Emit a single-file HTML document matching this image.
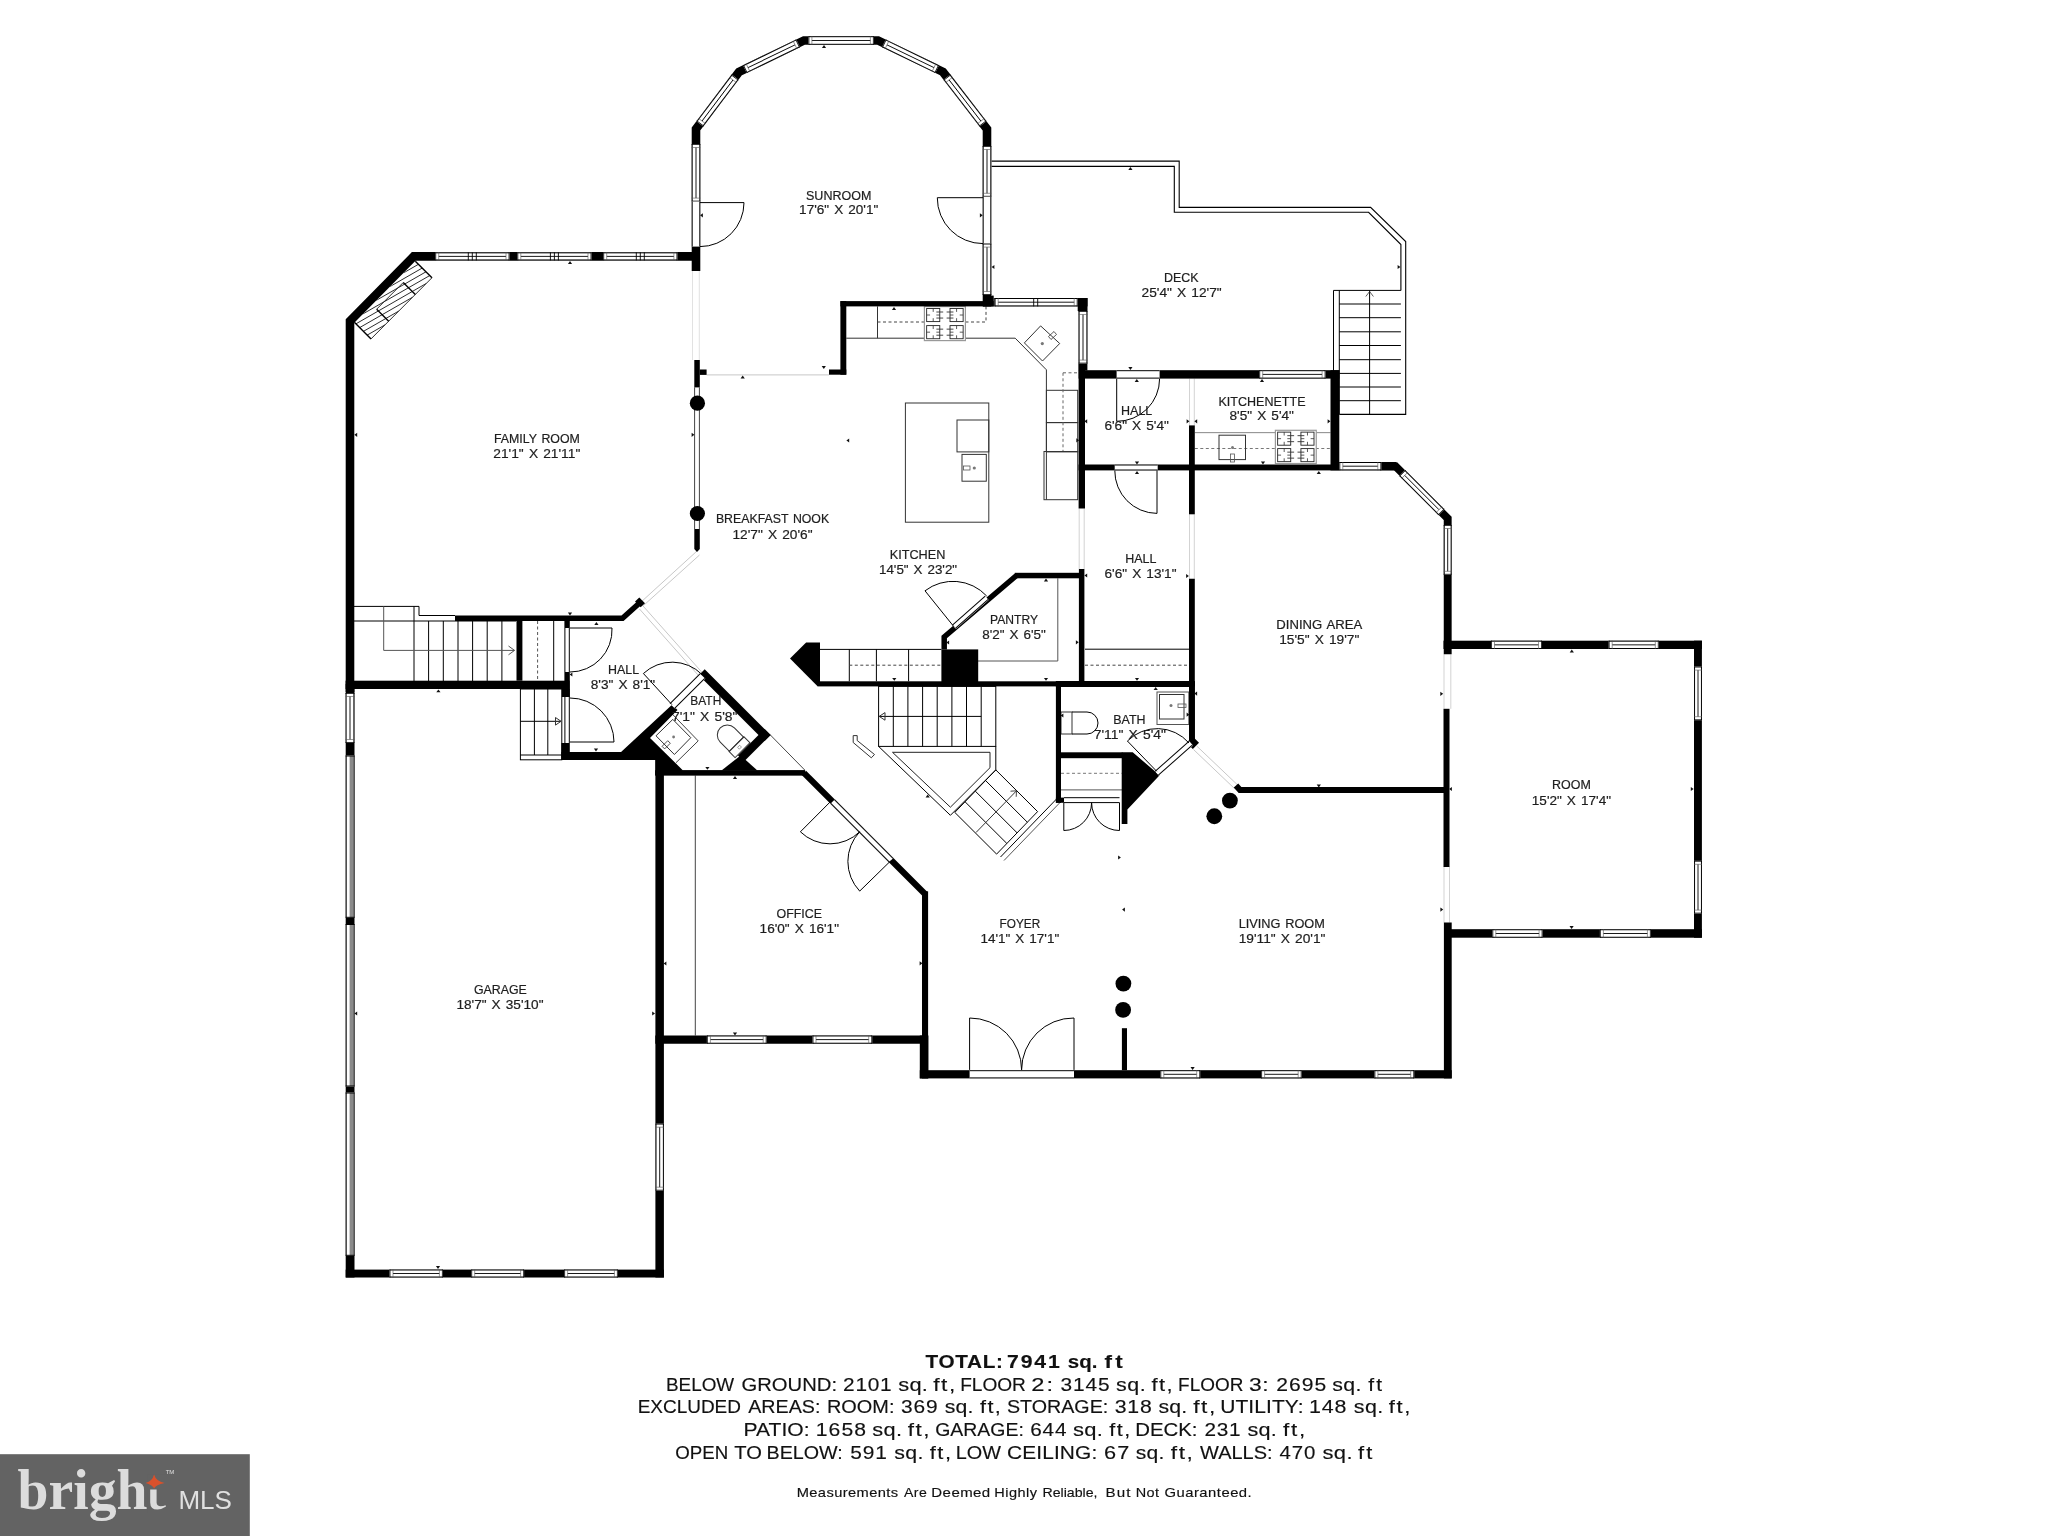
<!DOCTYPE html>
<html><head><meta charset="utf-8"><style>
html,body{margin:0;padding:0;background:#fff;width:2048px;height:1536px;overflow:hidden}
svg{display:block;will-change:transform}
</style></head><body>
<svg width="2048" height="1536" viewBox="0 0 2048 1536">
<rect width="2048" height="1536" fill="#fff"/>
<line x1="692.5" y1="271" x2="692.5" y2="360" stroke="#e2e2e2" stroke-width="1"/>
<line x1="699.3" y1="271" x2="699.3" y2="360" stroke="#e2e2e2" stroke-width="1"/>
<line x1="706.6" y1="374.9" x2="829" y2="374.9" stroke="#c8c8c8" stroke-width="1"/>
<line x1="697" y1="551" x2="640.5" y2="602.5" stroke="#c8c8c8" stroke-width="1"/>
<line x1="699.5" y1="555" x2="643.5" y2="605.5" stroke="#c8c8c8" stroke-width="1"/>
<line x1="642.9" y1="605.8" x2="702" y2="672.4" stroke="#c8c8c8" stroke-width="1"/>
<line x1="639.5" y1="609" x2="698.5" y2="675.5" stroke="#c8c8c8" stroke-width="1"/>
<line x1="1079.2" y1="508.5" x2="1079.2" y2="569" stroke="#c8c8c8" stroke-width="0.8"/>
<line x1="1084.2" y1="508.5" x2="1084.2" y2="569" stroke="#c8c8c8" stroke-width="0.8"/>
<line x1="1189.5" y1="378.6" x2="1189.5" y2="425.4" stroke="#c8c8c8" stroke-width="0.8"/>
<line x1="1194.3" y1="378.6" x2="1194.3" y2="425.4" stroke="#c8c8c8" stroke-width="0.8"/>
<line x1="1189.5" y1="514.3" x2="1189.5" y2="578.75" stroke="#c8c8c8" stroke-width="0.8"/>
<line x1="1194.3" y1="514.3" x2="1194.3" y2="578.75" stroke="#c8c8c8" stroke-width="0.8"/>
<line x1="1444" y1="654.3" x2="1444" y2="708.8" stroke="#c8c8c8" stroke-width="0.8"/>
<line x1="1450.8" y1="654.3" x2="1450.8" y2="708.8" stroke="#c8c8c8" stroke-width="0.8"/>
<line x1="1444" y1="866.5" x2="1444" y2="922.7" stroke="#c8c8c8" stroke-width="0.8"/>
<line x1="1449.5" y1="866.5" x2="1449.5" y2="922.7" stroke="#c8c8c8" stroke-width="0.8"/>
<line x1="1196.7" y1="746" x2="1238.7" y2="786" stroke="#c8c8c8" stroke-width="1"/>
<line x1="1193.5" y1="749.5" x2="1235.5" y2="789.5" stroke="#c8c8c8" stroke-width="1"/>
<line x1="694.6" y1="387.4" x2="694.6" y2="529" stroke="#444" stroke-width="1"/>
<line x1="699.4" y1="387.4" x2="699.4" y2="529" stroke="#444" stroke-width="1"/>
<line x1="769.9" y1="734.5" x2="805" y2="770.3" stroke="#333" stroke-width="0.9"/>
<polyline points="991.4,161.1 1179.2,161.1 1179.2,207.4 1370.6,207.4 1405.7,241.6 1405.7,414.4 1339.3,414.4" fill="none" stroke="#000" stroke-width="1.1" stroke-linejoin="miter" stroke-linecap="butt"/>
<polyline points="991.4,166.4 1174.3,166.4 1174.3,212.3 1368.6,212.3 1400.9,244.5 1400.9,290.4" fill="none" stroke="#000" stroke-width="1.1" stroke-linejoin="miter" stroke-linecap="butt"/>
<line x1="1333.5" y1="290.4" x2="1400.9" y2="290.4" stroke="#000" stroke-width="1"/>
<line x1="1333.5" y1="290.4" x2="1333.5" y2="371" stroke="#000" stroke-width="1"/>
<line x1="1339.3" y1="290.4" x2="1339.3" y2="414.4" stroke="#000" stroke-width="1"/>
<line x1="1339.3" y1="304" x2="1400.9" y2="304" stroke="#000" stroke-width="1"/>
<line x1="1339.3" y1="317.7" x2="1400.9" y2="317.7" stroke="#000" stroke-width="1"/>
<line x1="1339.3" y1="331.8" x2="1400.9" y2="331.8" stroke="#000" stroke-width="1"/>
<line x1="1339.3" y1="345.5" x2="1400.9" y2="345.5" stroke="#000" stroke-width="1"/>
<line x1="1339.3" y1="359.7" x2="1400.9" y2="359.7" stroke="#000" stroke-width="1"/>
<line x1="1339.3" y1="373.4" x2="1400.9" y2="373.4" stroke="#000" stroke-width="1"/>
<line x1="1339.3" y1="387" x2="1400.9" y2="387" stroke="#000" stroke-width="1"/>
<line x1="1339.3" y1="400.7" x2="1400.9" y2="400.7" stroke="#000" stroke-width="1"/>
<line x1="1369.6" y1="290.4" x2="1369.6" y2="414.4" stroke="#000" stroke-width="1"/>
<polyline points="1365.8,296.5 1369.6,291.5 1373.4,296.5" fill="none" stroke="#333" stroke-width="0.8" stroke-linejoin="miter" stroke-linecap="butt"/>
<polyline points="354,606.4 419,606.4 419,615.5 455,615.5" fill="none" stroke="#000" stroke-width="1" stroke-linejoin="miter" stroke-linecap="butt"/>
<line x1="414" y1="606.4" x2="414" y2="621" stroke="#000" stroke-width="1"/>
<line x1="354" y1="621" x2="516" y2="621" stroke="#000" stroke-width="1"/>
<line x1="414" y1="621" x2="414" y2="681" stroke="#000" stroke-width="1"/>
<line x1="428.6" y1="621" x2="428.6" y2="681" stroke="#000" stroke-width="1"/>
<line x1="443.3" y1="621" x2="443.3" y2="681" stroke="#000" stroke-width="1"/>
<line x1="458" y1="621" x2="458" y2="681" stroke="#000" stroke-width="1"/>
<line x1="472.6" y1="621" x2="472.6" y2="681" stroke="#000" stroke-width="1"/>
<line x1="487.2" y1="621" x2="487.2" y2="681" stroke="#000" stroke-width="1"/>
<line x1="501.9" y1="621" x2="501.9" y2="681" stroke="#000" stroke-width="1"/>
<polyline points="383.7,606.4 383.7,650.4 514.5,650.4" fill="none" stroke="#555" stroke-width="1" stroke-linejoin="miter" stroke-linecap="butt"/>
<polyline points="508.5,646 514.5,650.4 508.5,654.8" fill="none" stroke="#555" stroke-width="1" stroke-linejoin="miter" stroke-linecap="butt"/>
<line x1="537.6" y1="621" x2="537.6" y2="681" stroke="#555" stroke-width="1" stroke-dasharray="3,2.5"/>
<line x1="553.7" y1="621" x2="553.7" y2="681" stroke="#000" stroke-width="1"/>
<rect x="520.4" y="689" width="41.4" height="70.8" fill="none" stroke="#000" stroke-width="1"/>
<line x1="534.4" y1="689" x2="534.4" y2="755" stroke="#000" stroke-width="1"/>
<line x1="547.8" y1="689" x2="547.8" y2="755" stroke="#000" stroke-width="1"/>
<line x1="520.4" y1="755" x2="561.8" y2="755" stroke="#000" stroke-width="1"/>
<line x1="520.4" y1="721.3" x2="561" y2="721.3" stroke="#000" stroke-width="1"/>
<polyline points="555.5,717.5 561,721.3 555.5,725.1" fill="none" stroke="#333" stroke-width="1" stroke-linejoin="miter" stroke-linecap="butt"/>
<line x1="555.5" y1="717.5" x2="555.5" y2="725.1" stroke="#333" stroke-width="1"/>
<line x1="820" y1="649.4" x2="941.4" y2="649.4" stroke="#000" stroke-width="1"/>
<line x1="849.3" y1="649.4" x2="849.3" y2="681.3" stroke="#000" stroke-width="1"/>
<line x1="876.4" y1="649.4" x2="876.4" y2="681.3" stroke="#000" stroke-width="1"/>
<line x1="908.6" y1="649.4" x2="908.6" y2="681.3" stroke="#000" stroke-width="1"/>
<line x1="849.3" y1="665.2" x2="941.4" y2="665.2" stroke="#444" stroke-width="1" stroke-dasharray="3,2.5"/>
<line x1="1085" y1="649.2" x2="1189" y2="649.2" stroke="#000" stroke-width="1"/>
<line x1="1085" y1="665.2" x2="1189" y2="665.2" stroke="#444" stroke-width="1" stroke-dasharray="3,2.5"/>
<polyline points="978,661 1057.8,661 1057.8,578.3" fill="none" stroke="#555" stroke-width="1" stroke-linejoin="miter" stroke-linecap="butt"/>
<rect x="878.6" y="686.4" width="117.2" height="60" fill="none" stroke="#000" stroke-width="1"/>
<line x1="893.3" y1="686.4" x2="893.3" y2="746.4" stroke="#000" stroke-width="1"/>
<line x1="907.9" y1="686.4" x2="907.9" y2="746.4" stroke="#000" stroke-width="1"/>
<line x1="922.6" y1="686.4" x2="922.6" y2="746.4" stroke="#000" stroke-width="1"/>
<line x1="937.2" y1="686.4" x2="937.2" y2="746.4" stroke="#000" stroke-width="1"/>
<line x1="951.9" y1="686.4" x2="951.9" y2="746.4" stroke="#000" stroke-width="1"/>
<line x1="966.5" y1="686.4" x2="966.5" y2="746.4" stroke="#000" stroke-width="1"/>
<line x1="981.2" y1="686.4" x2="981.2" y2="746.4" stroke="#000" stroke-width="1"/>
<line x1="879" y1="716.4" x2="981.2" y2="716.4" stroke="#000" stroke-width="1"/>
<polyline points="885,712.6 879.2,716.4 885,720.2 885,712.6" fill="none" stroke="#333" stroke-width="1" stroke-linejoin="miter" stroke-linecap="butt"/>
<polyline points="878.6,746.4 950.4,815.3 995.8,769.9 995.8,746.4" fill="none" stroke="#000" stroke-width="1" stroke-linejoin="miter" stroke-linecap="butt"/>
<polyline points="892.5,752.3 990,752.3 990,767.7 950.4,807.2 892.5,752.3" fill="none" stroke="#222" stroke-width="1" stroke-linejoin="miter" stroke-linecap="butt"/>
<polyline points="995.8,769.9 1037.6,811.6 996.6,854.1 954.8,812.4 995.8,769.9" fill="none" stroke="#000" stroke-width="1" stroke-linejoin="miter" stroke-linecap="butt"/>
<line x1="985.55" y1="780.52" x2="1027.35" y2="822.23" stroke="#000" stroke-width="1"/>
<line x1="975.3" y1="791.15" x2="1017.1" y2="832.85" stroke="#000" stroke-width="1"/>
<line x1="965.05" y1="801.77" x2="1006.85" y2="843.48" stroke="#000" stroke-width="1"/>
<line x1="976" y1="832.5" x2="1016.5" y2="790.8" stroke="#333" stroke-width="1"/>
<polyline points="1010.5,791.2 1016.5,790.8 1016.2,796.8" fill="none" stroke="#333" stroke-width="0.9" stroke-linejoin="miter" stroke-linecap="butt"/>
<line x1="1057" y1="798.5" x2="1000.5" y2="857" stroke="#000" stroke-width="1"/>
<line x1="1060.5" y1="802" x2="1004" y2="860.5" stroke="#555" stroke-width="1"/>
<polyline points="853.2,735.6 857.2,735.6 857.2,740.5 874.5,754.5 871.3,757.8 853.2,742.5 853.2,735.6" fill="none" stroke="#333" stroke-width="1" stroke-linejoin="miter" stroke-linecap="butt"/>
<polyline points="846.3,338.2 1015.2,338.2 1046.4,369.8 1046.4,499.7" fill="none" stroke="#333" stroke-width="1" stroke-linejoin="miter" stroke-linecap="butt"/>
<line x1="877.5" y1="306.4" x2="877.5" y2="338.2" stroke="#333" stroke-width="1"/>
<line x1="877.5" y1="322" x2="986" y2="322" stroke="#444" stroke-width="1" stroke-dasharray="3,2.5"/>
<line x1="986" y1="306.4" x2="986" y2="322" stroke="#444" stroke-width="1" stroke-dasharray="3,2.5"/>
<rect x="924.4" y="306.6" width="41" height="34" fill="#fff" stroke="#999" stroke-width="1.2"/>
<rect x="926.65" y="308.47" width="13.12" height="13.12" fill="none" stroke="#222" stroke-width="0.9"/>
<line x1="933.21" y1="308.47" x2="933.21" y2="311.88" stroke="#333" stroke-width="0.8"/>
<line x1="933.21" y1="318.18" x2="933.21" y2="321.59" stroke="#333" stroke-width="0.8"/>
<line x1="926.65" y1="315.03" x2="930.07" y2="315.03" stroke="#333" stroke-width="0.8"/>
<line x1="936.36" y1="315.03" x2="939.77" y2="315.03" stroke="#333" stroke-width="0.8"/>
<line x1="936.36" y1="312.01" x2="943.19" y2="312.01" stroke="#333" stroke-width="0.9"/>
<line x1="936.36" y1="318.05" x2="943.19" y2="318.05" stroke="#333" stroke-width="0.9"/>
<rect x="950.02" y="308.47" width="13.12" height="13.12" fill="none" stroke="#222" stroke-width="0.9"/>
<line x1="956.58" y1="308.47" x2="956.58" y2="311.88" stroke="#333" stroke-width="0.8"/>
<line x1="956.58" y1="318.18" x2="956.58" y2="321.59" stroke="#333" stroke-width="0.8"/>
<line x1="950.02" y1="315.03" x2="953.44" y2="315.03" stroke="#333" stroke-width="0.8"/>
<line x1="959.73" y1="315.03" x2="963.14" y2="315.03" stroke="#333" stroke-width="0.8"/>
<line x1="953.44" y1="312.01" x2="946.61" y2="312.01" stroke="#333" stroke-width="0.9"/>
<line x1="953.44" y1="318.05" x2="946.61" y2="318.05" stroke="#333" stroke-width="0.9"/>
<rect x="926.65" y="325.61" width="13.12" height="13.12" fill="none" stroke="#222" stroke-width="0.9"/>
<line x1="933.21" y1="325.61" x2="933.21" y2="329.02" stroke="#333" stroke-width="0.8"/>
<line x1="933.21" y1="335.32" x2="933.21" y2="338.73" stroke="#333" stroke-width="0.8"/>
<line x1="926.65" y1="332.17" x2="930.07" y2="332.17" stroke="#333" stroke-width="0.8"/>
<line x1="936.36" y1="332.17" x2="939.77" y2="332.17" stroke="#333" stroke-width="0.8"/>
<line x1="936.36" y1="329.15" x2="943.19" y2="329.15" stroke="#333" stroke-width="0.9"/>
<line x1="936.36" y1="335.19" x2="943.19" y2="335.19" stroke="#333" stroke-width="0.9"/>
<rect x="950.02" y="325.61" width="13.12" height="13.12" fill="none" stroke="#222" stroke-width="0.9"/>
<line x1="956.58" y1="325.61" x2="956.58" y2="329.02" stroke="#333" stroke-width="0.8"/>
<line x1="956.58" y1="335.32" x2="956.58" y2="338.73" stroke="#333" stroke-width="0.8"/>
<line x1="950.02" y1="332.17" x2="953.44" y2="332.17" stroke="#333" stroke-width="0.8"/>
<line x1="959.73" y1="332.17" x2="963.14" y2="332.17" stroke="#333" stroke-width="0.8"/>
<line x1="953.44" y1="329.15" x2="946.61" y2="329.15" stroke="#333" stroke-width="0.9"/>
<line x1="953.44" y1="335.19" x2="946.61" y2="335.19" stroke="#333" stroke-width="0.9"/>
<polyline points="1040.6,325.9 1059.7,343.5 1042.5,361 1024.4,342.9 1040.6,325.9" fill="none" stroke="#333" stroke-width="1" stroke-linejoin="miter" stroke-linecap="butt"/>
<circle cx="1042.3" cy="343.6" r="1.6" fill="#777"/>
<polyline points="1048.5,336.5 1054,331.5 1056.5,334.5 1051,339.5 1048.5,336.5" fill="none" stroke="#333" stroke-width="0.8" stroke-linejoin="miter" stroke-linecap="butt"/>
<rect x="1046.4" y="390.3" width="31.3" height="32.3" fill="none" stroke="#333" stroke-width="1"/>
<rect x="1046.4" y="422.6" width="31.3" height="29.3" fill="none" stroke="#333" stroke-width="1"/>
<rect x="1044" y="451.5" width="33.7" height="48.2" fill="none" stroke="#333" stroke-width="1"/>
<line x1="1063" y1="372.8" x2="1063" y2="451" stroke="#666" stroke-width="1" stroke-dasharray="3,2.5"/>
<line x1="1063" y1="372.8" x2="1077.7" y2="372.8" stroke="#666" stroke-width="1" stroke-dasharray="3,2.5"/>
<rect x="905.4" y="403" width="83.4" height="119.2" fill="none" stroke="#333" stroke-width="1"/>
<rect x="957" y="420" width="31.8" height="31.9" fill="none" stroke="#333" stroke-width="1"/>
<rect x="962" y="454.4" width="24.3" height="26.8" fill="none" stroke="#333" stroke-width="1"/>
<circle cx="974.3" cy="468" r="1.6" fill="#777"/>
<rect x="963.5" y="466" width="6.5" height="4" fill="none" stroke="#555" stroke-width="0.8"/>
<line x1="1194.8" y1="432.65" x2="1330.5" y2="432.65" stroke="#888" stroke-width="1"/>
<line x1="1194.8" y1="448.5" x2="1330.5" y2="448.5" stroke="#777" stroke-width="1" stroke-dasharray="3,2.5"/>
<rect x="1219" y="435.2" width="26.5" height="24.4" fill="none" stroke="#333" stroke-width="1"/>
<circle cx="1232.5" cy="447.5" r="1.5" fill="#777"/>
<rect x="1230.5" y="454" width="4" height="8" fill="none" stroke="#555" stroke-width="0.8"/>
<rect x="1275.4" y="430.3" width="40.85" height="33.2" fill="#fff" stroke="#999" stroke-width="1.2"/>
<rect x="1277.65" y="432.13" width="13.07" height="13.07" fill="none" stroke="#222" stroke-width="0.9"/>
<line x1="1284.18" y1="432.13" x2="1284.18" y2="435.52" stroke="#333" stroke-width="0.8"/>
<line x1="1284.18" y1="441.8" x2="1284.18" y2="445.2" stroke="#333" stroke-width="0.8"/>
<line x1="1277.65" y1="438.66" x2="1281.05" y2="438.66" stroke="#333" stroke-width="0.8"/>
<line x1="1287.32" y1="438.66" x2="1290.72" y2="438.66" stroke="#333" stroke-width="0.8"/>
<line x1="1287.32" y1="435.66" x2="1294.12" y2="435.66" stroke="#333" stroke-width="0.9"/>
<line x1="1287.32" y1="441.67" x2="1294.12" y2="441.67" stroke="#333" stroke-width="0.9"/>
<rect x="1300.93" y="432.13" width="13.07" height="13.07" fill="none" stroke="#222" stroke-width="0.9"/>
<line x1="1307.47" y1="432.13" x2="1307.47" y2="435.52" stroke="#333" stroke-width="0.8"/>
<line x1="1307.47" y1="441.8" x2="1307.47" y2="445.2" stroke="#333" stroke-width="0.8"/>
<line x1="1300.93" y1="438.66" x2="1304.33" y2="438.66" stroke="#333" stroke-width="0.8"/>
<line x1="1310.6" y1="438.66" x2="1314" y2="438.66" stroke="#333" stroke-width="0.8"/>
<line x1="1304.33" y1="435.66" x2="1297.53" y2="435.66" stroke="#333" stroke-width="0.9"/>
<line x1="1304.33" y1="441.67" x2="1297.53" y2="441.67" stroke="#333" stroke-width="0.9"/>
<rect x="1277.65" y="448.6" width="13.07" height="13.07" fill="none" stroke="#222" stroke-width="0.9"/>
<line x1="1284.18" y1="448.6" x2="1284.18" y2="452" stroke="#333" stroke-width="0.8"/>
<line x1="1284.18" y1="458.28" x2="1284.18" y2="461.67" stroke="#333" stroke-width="0.8"/>
<line x1="1277.65" y1="455.14" x2="1281.05" y2="455.14" stroke="#333" stroke-width="0.8"/>
<line x1="1287.32" y1="455.14" x2="1290.72" y2="455.14" stroke="#333" stroke-width="0.8"/>
<line x1="1287.32" y1="452.13" x2="1294.12" y2="452.13" stroke="#333" stroke-width="0.9"/>
<line x1="1287.32" y1="458.14" x2="1294.12" y2="458.14" stroke="#333" stroke-width="0.9"/>
<rect x="1300.93" y="448.6" width="13.07" height="13.07" fill="none" stroke="#222" stroke-width="0.9"/>
<line x1="1307.47" y1="448.6" x2="1307.47" y2="452" stroke="#333" stroke-width="0.8"/>
<line x1="1307.47" y1="458.28" x2="1307.47" y2="461.67" stroke="#333" stroke-width="0.8"/>
<line x1="1300.93" y1="455.14" x2="1304.33" y2="455.14" stroke="#333" stroke-width="0.8"/>
<line x1="1310.6" y1="455.14" x2="1314" y2="455.14" stroke="#333" stroke-width="0.8"/>
<line x1="1304.33" y1="452.13" x2="1297.53" y2="452.13" stroke="#333" stroke-width="0.9"/>
<line x1="1304.33" y1="458.14" x2="1297.53" y2="458.14" stroke="#333" stroke-width="0.9"/>
<rect x="1157" y="692" width="31.8" height="32.5" fill="none" stroke="#555" stroke-width="1"/>
<rect x="1159.5" y="694.5" width="24.5" height="24.5" fill="none" stroke="#333" stroke-width="1"/>
<circle cx="1171" cy="705.5" r="1.5" fill="#777"/>
<rect x="1178" y="704" width="8" height="3.5" fill="none" stroke="#555" stroke-width="0.8"/>
<rect x="1061" y="712" width="11" height="22" fill="none" stroke="#333" stroke-width="1"/>
<path d="M 1072 712 L 1087 712 A 11 11 0 0 1 1087 734 L 1072 734" fill="none" stroke="#000" stroke-width="1"/>
<line x1="1061" y1="789.9" x2="1122" y2="789.9" stroke="#555" stroke-width="1"/>
<line x1="1061" y1="773.3" x2="1122" y2="773.3" stroke="#777" stroke-width="1" stroke-dasharray="3,2.5"/>
<line x1="1064" y1="797.7" x2="1119.5" y2="797.7" stroke="#000" stroke-width="1"/>
<line x1="1064" y1="802.6" x2="1119.5" y2="802.6" stroke="#000" stroke-width="1"/>
<polyline points="672.8,719.4 690.8,737.7 674.4,754.5 656,735.8 672.8,719.4" fill="none" stroke="#333" stroke-width="1" stroke-linejoin="miter" stroke-linecap="butt"/>
<polyline points="671.25,713 698.2,740.9 676,762.7" fill="none" stroke="#444" stroke-width="1" stroke-linejoin="miter" stroke-linecap="butt"/>
<circle cx="673.6" cy="737" r="1.4" fill="#777"/>
<g transform="translate(666.2 744.8) rotate(-45)"><rect x="-4" y="-1.8" width="8" height="3.6" fill="none" stroke="#333" stroke-width="0.8"/></g>
<g transform="translate(736.5 744.2) rotate(45)"><path d="M 0 -10 L -13 -10 A 10 10 0 0 0 -13 10 L 0 10 Z" fill="none" stroke="#333" stroke-width="1"/><rect x="0" y="-10.5" width="8.5" height="21" fill="none" stroke="#333" stroke-width="1"/><rect x="3" y="-1.5" width="2.5" height="3" fill="none" stroke="#666" stroke-width="0.6"/></g>
<line x1="695.3" y1="775.4" x2="695.3" y2="1035.5" stroke="#444" stroke-width="1"/>
<polyline points="350,692 350,321 413.7,256.4 696,256.4" fill="none" stroke="#000" stroke-width="8.6" stroke-linejoin="miter" stroke-linecap="butt"/>
<rect x="692" y="246.4" width="8" height="24.4" fill="#000"/>
<polyline points="696,271 696,129 739,72 804,40.5 878,40.5 943,72 987,129 987,306.4" fill="none" stroke="#000" stroke-width="8.6" stroke-linejoin="miter" stroke-linecap="butt"/>
<rect x="840.4" y="301.1" width="153.3" height="5.3" fill="#000"/>
<rect x="983" y="295.6" width="10.7" height="10.8" fill="#000"/>
<rect x="993.7" y="298" width="93.8" height="8.4" fill="#000"/>
<rect x="1077.7" y="298" width="9.8" height="13" fill="#000"/>
<rect x="840.4" y="301.1" width="5.9" height="73.6" fill="#000"/>
<rect x="829" y="369.5" width="17.3" height="5.2" fill="#000"/>
<rect x="694.3" y="360" width="5.5" height="27.4" fill="#000"/>
<rect x="699.8" y="369.5" width="6.8" height="5.4" fill="#000"/>
<polyline points="694.3,529 699.8,529 699.8,549 697,552 694.3,549" fill="#000" stroke="#000" stroke-width="0" stroke-linejoin="miter" stroke-linecap="butt"/>
<rect x="1078.6" y="311" width="8.8" height="59.5" fill="#000"/>
<rect x="1078.6" y="363.6" width="6.4" height="144.9" fill="#000"/>
<rect x="1078.9" y="569" width="5.5" height="118" fill="#000"/>
<rect x="1078.6" y="370.2" width="260.7" height="8.4" fill="#000"/>
<rect x="1330.5" y="370.2" width="8.8" height="100.2" fill="#000"/>
<rect x="1078.6" y="464.5" width="260.7" height="5.9" fill="#000"/>
<rect x="1189" y="425.4" width="5.8" height="88.9" fill="#000"/>
<rect x="1189" y="578.75" width="5.8" height="163.25" fill="#000"/>
<rect x="1339.3" y="462" width="56.7" height="8.4" fill="#000"/>
<polyline points="1380,466.2 1395.5,466.2 1447.7,518.4 1447.7,654.3" fill="none" stroke="#000" stroke-width="7.9" stroke-linejoin="miter" stroke-linecap="butt"/>
<rect x="1443.5" y="708.8" width="6" height="158.2" fill="#000"/>
<rect x="1443.5" y="640.7" width="258.4" height="8.3" fill="#000"/>
<rect x="1694" y="640.7" width="7.9" height="297" fill="#000"/>
<rect x="1444" y="929.2" width="257.9" height="8.5" fill="#000"/>
<polyline points="1236,785.5 1240,790 1447.7,790" fill="none" stroke="#000" stroke-width="6" stroke-linejoin="miter" stroke-linecap="butt"/>
<rect x="919.8" y="1070.2" width="531.9" height="8.2" fill="#000"/>
<rect x="1443.9" y="922.5" width="7.8" height="155.9" fill="#000"/>
<rect x="922" y="891.3" width="6.1" height="187.1" fill="#000"/>
<rect x="919.8" y="1035.5" width="8.6" height="42.9" fill="#000"/>
<rect x="655.3" y="1035.5" width="272.7" height="8.25" fill="#000"/>
<rect x="655.4" y="770.3" width="149.6" height="5.1" fill="#000"/>
<polyline points="803.9,772.85 925,894" fill="none" stroke="#000" stroke-width="6.2" stroke-linejoin="miter" stroke-linecap="butt"/>
<rect x="655.4" y="752" width="8.5" height="525.5" fill="#000"/>
<rect x="345.7" y="1269.6" width="318.2" height="7.9" fill="#000"/>
<rect x="345.7" y="684" width="8.8" height="593.5" fill="#000"/>
<rect x="345.6" y="680.7" width="224" height="8.3" fill="#000"/>
<polyline points="455,618.3 622.5,618.3 639.5,603" fill="none" stroke="#000" stroke-width="5.6" stroke-linejoin="miter" stroke-linecap="butt"/>
<polyline points="636.5,600 643.5,607" fill="#000" stroke="#000" stroke-width="0" stroke-linejoin="miter" stroke-linecap="butt"/>
<polygon points="635,601.5 639.3,597.5 645,603.3 640.6,607.3" fill="#000"/>
<rect x="516.5" y="621" width="5.9" height="59.7" fill="#000"/>
<rect x="564.4" y="616" width="5.4" height="12" fill="#000"/>
<rect x="564.4" y="672" width="5.4" height="25" fill="#000"/>
<rect x="561.8" y="689" width="8" height="8" fill="#000"/>
<rect x="561.4" y="743" width="8.4" height="17" fill="#000"/>
<rect x="561.4" y="752" width="102.5" height="8" fill="#000"/>
<polygon points="620.5,752.5 672.3,704.6 677.5,710 650,738 683,770.4 655.4,775.4 655.4,760 620.5,760" fill="#000"/>
<polygon points="704.7,669.3 770.6,735 764.6,741 698.8,675.3" fill="#000"/>
<polygon points="770.6,735 744,761.5 738,755.5 764.6,729" fill="#000"/>
<polygon points="721.5,770.4 757.4,770.4 740.6,755.5" fill="#000"/>
<rect x="655.4" y="770.3" width="149.6" height="5.1" fill="#000"/>
<rect x="817.8" y="681.3" width="377" height="5.1" fill="#000"/>
<polygon points="806.1,642.5 820,642.5 820,681.3 817.8,686.4 790,658.6" fill="#000"/>
<rect x="1014.8" y="572.8" width="66.9" height="5.5" fill="#000"/>
<polyline points="1016.5,575.5 944.2,637 944.2,649.4" fill="none" stroke="#000" stroke-width="5.5" stroke-linejoin="miter" stroke-linecap="butt"/>
<rect x="941.4" y="649.4" width="36.8" height="37" fill="#000"/>
<rect x="1055.9" y="681" width="138.9" height="6" fill="#000"/>
<rect x="1055.9" y="681" width="5.1" height="121.8" fill="#000"/>
<rect x="1055.9" y="797.6" width="8.1" height="5.2" fill="#000"/>
<rect x="1058" y="752.3" width="64.5" height="5.9" fill="#000"/>
<polygon points="1121.7,752.3 1132.7,752.3 1159.6,775.2 1127.4,809.4 1127.4,824 1121.7,824" fill="#000"/>
<rect x="1189" y="687" width="5.8" height="55" fill="#000"/>
<polygon points="1192.8,736.5 1199,742.8 1192.8,749 1186.5,742.8" fill="#000"/>
<rect x="1121.9" y="1028.2" width="5.1" height="42" fill="#000"/>
<circle cx="1123.4" cy="983.6" r="7.9" fill="#000"/>
<circle cx="1123.1" cy="1009.9" r="7.9" fill="#000"/>
<circle cx="1229.9" cy="800.6" r="7.9" fill="#000"/>
<circle cx="1214.3" cy="816.25" r="7.9" fill="#000"/>
<circle cx="697.4" cy="403.2" r="7.6" fill="#000"/>
<circle cx="697.4" cy="513.5" r="7.6" fill="#000"/>
<g transform="translate(435.2 256.4) rotate(0)"><rect x="0" y="-4.05" width="74.3" height="8.1" fill="#fff"/><line x1="0" y1="-3.55" x2="74.3" y2="-3.55" stroke="#000" stroke-width="1"/><line x1="0" y1="3.55" x2="74.3" y2="3.55" stroke="#000" stroke-width="1"/><line x1="3.5" y1="0" x2="70.8" y2="0" stroke="#000" stroke-width="0.9"/><line x1="0.5" y1="-4.05" x2="0.5" y2="4.05" stroke="#000" stroke-width="0.8"/><line x1="73.8" y1="-4.05" x2="73.8" y2="4.05" stroke="#000" stroke-width="0.8"/><line x1="3.5" y1="-4.05" x2="3.5" y2="4.05" stroke="#555" stroke-width="0.6"/><line x1="70.8" y1="-4.05" x2="70.8" y2="4.05" stroke="#555" stroke-width="0.6"/><line x1="33.1" y1="-4.05" x2="33.1" y2="4.05" stroke="#000" stroke-width="0.9"/><line x1="37.1" y1="-4.05" x2="37.1" y2="4.05" stroke="#000" stroke-width="0.9"/><line x1="41.1" y1="-4.05" x2="41.1" y2="4.05" stroke="#000" stroke-width="0.9"/></g>
<g transform="translate(517.3 256.4) rotate(0)"><rect x="0" y="-4.05" width="74.2" height="8.1" fill="#fff"/><line x1="0" y1="-3.55" x2="74.2" y2="-3.55" stroke="#000" stroke-width="1"/><line x1="0" y1="3.55" x2="74.2" y2="3.55" stroke="#000" stroke-width="1"/><line x1="3.5" y1="0" x2="70.7" y2="0" stroke="#000" stroke-width="0.9"/><line x1="0.5" y1="-4.05" x2="0.5" y2="4.05" stroke="#000" stroke-width="0.8"/><line x1="73.7" y1="-4.05" x2="73.7" y2="4.05" stroke="#000" stroke-width="0.8"/><line x1="3.5" y1="-4.05" x2="3.5" y2="4.05" stroke="#555" stroke-width="0.6"/><line x1="70.7" y1="-4.05" x2="70.7" y2="4.05" stroke="#555" stroke-width="0.6"/><line x1="33.1" y1="-4.05" x2="33.1" y2="4.05" stroke="#000" stroke-width="0.9"/><line x1="37.1" y1="-4.05" x2="37.1" y2="4.05" stroke="#000" stroke-width="0.9"/><line x1="41.1" y1="-4.05" x2="41.1" y2="4.05" stroke="#000" stroke-width="0.9"/></g>
<g transform="translate(603.2 256.4) rotate(0)"><rect x="0" y="-4.05" width="74.2" height="8.1" fill="#fff"/><line x1="0" y1="-3.55" x2="74.2" y2="-3.55" stroke="#000" stroke-width="1"/><line x1="0" y1="3.55" x2="74.2" y2="3.55" stroke="#000" stroke-width="1"/><line x1="3.5" y1="0" x2="70.7" y2="0" stroke="#000" stroke-width="0.9"/><line x1="0.5" y1="-4.05" x2="0.5" y2="4.05" stroke="#000" stroke-width="0.8"/><line x1="73.7" y1="-4.05" x2="73.7" y2="4.05" stroke="#000" stroke-width="0.8"/><line x1="3.5" y1="-4.05" x2="3.5" y2="4.05" stroke="#555" stroke-width="0.6"/><line x1="70.7" y1="-4.05" x2="70.7" y2="4.05" stroke="#555" stroke-width="0.6"/><line x1="33.1" y1="-4.05" x2="33.1" y2="4.05" stroke="#000" stroke-width="0.9"/><line x1="37.1" y1="-4.05" x2="37.1" y2="4.05" stroke="#000" stroke-width="0.9"/><line x1="41.1" y1="-4.05" x2="41.1" y2="4.05" stroke="#000" stroke-width="0.9"/></g>
<g transform="translate(696 144) rotate(90)"><rect x="0" y="-4.3" width="57.6" height="8.6" fill="#fff"/><line x1="0" y1="-3.8" x2="57.6" y2="-3.8" stroke="#000" stroke-width="1"/><line x1="0" y1="3.8" x2="57.6" y2="3.8" stroke="#000" stroke-width="1"/><line x1="3.5" y1="0" x2="54.1" y2="0" stroke="#000" stroke-width="0.9"/><line x1="0.5" y1="-4.3" x2="0.5" y2="4.3" stroke="#000" stroke-width="0.8"/><line x1="57.1" y1="-4.3" x2="57.1" y2="4.3" stroke="#000" stroke-width="0.8"/><line x1="3.5" y1="-4.3" x2="3.5" y2="4.3" stroke="#555" stroke-width="0.6"/><line x1="54.1" y1="-4.3" x2="54.1" y2="4.3" stroke="#555" stroke-width="0.6"/></g>
<g transform="translate(696 201.6) rotate(90)"><rect x="0" y="-4.6" width="45" height="9.2" fill="#fff"/><line x1="0" y1="-3.8" x2="45" y2="-3.8" stroke="#000" stroke-width="1"/><line x1="0" y1="3.8" x2="45" y2="3.8" stroke="#000" stroke-width="1"/></g>
<g transform="translate(699.91 123.81) rotate(-52.97)"><rect x="0" y="-4.3" width="58.4" height="8.6" fill="#fff"/><line x1="0" y1="-3.8" x2="58.4" y2="-3.8" stroke="#000" stroke-width="1"/><line x1="0" y1="3.8" x2="58.4" y2="3.8" stroke="#000" stroke-width="1"/><line x1="3.5" y1="0" x2="54.9" y2="0" stroke="#000" stroke-width="0.9"/><line x1="0.5" y1="-4.3" x2="0.5" y2="4.3" stroke="#000" stroke-width="0.8"/><line x1="57.9" y1="-4.3" x2="57.9" y2="4.3" stroke="#000" stroke-width="0.8"/><line x1="3.5" y1="-4.3" x2="3.5" y2="4.3" stroke="#555" stroke-width="0.6"/><line x1="54.9" y1="-4.3" x2="54.9" y2="4.3" stroke="#555" stroke-width="0.6"/></g>
<g transform="translate(744.85 69.17) rotate(-25.86)"><rect x="0" y="-4.3" width="59.23" height="8.6" fill="#fff"/><line x1="0" y1="-3.8" x2="59.23" y2="-3.8" stroke="#000" stroke-width="1"/><line x1="0" y1="3.8" x2="59.23" y2="3.8" stroke="#000" stroke-width="1"/><line x1="3.5" y1="0" x2="55.73" y2="0" stroke="#000" stroke-width="0.9"/><line x1="0.5" y1="-4.3" x2="0.5" y2="4.3" stroke="#000" stroke-width="0.8"/><line x1="58.73" y1="-4.3" x2="58.73" y2="4.3" stroke="#000" stroke-width="0.8"/><line x1="3.5" y1="-4.3" x2="3.5" y2="4.3" stroke="#555" stroke-width="0.6"/><line x1="55.73" y1="-4.3" x2="55.73" y2="4.3" stroke="#555" stroke-width="0.6"/></g>
<g transform="translate(808.4 40.5) rotate(0)"><rect x="0" y="-4.3" width="65.5" height="8.6" fill="#fff"/><line x1="0" y1="-3.8" x2="65.5" y2="-3.8" stroke="#000" stroke-width="1"/><line x1="0" y1="3.8" x2="65.5" y2="3.8" stroke="#000" stroke-width="1"/><line x1="3.5" y1="0" x2="62" y2="0" stroke="#000" stroke-width="0.9"/><line x1="0.5" y1="-4.3" x2="0.5" y2="4.3" stroke="#000" stroke-width="0.8"/><line x1="65" y1="-4.3" x2="65" y2="4.3" stroke="#000" stroke-width="0.8"/><line x1="3.5" y1="-4.3" x2="3.5" y2="4.3" stroke="#555" stroke-width="0.6"/><line x1="62" y1="-4.3" x2="62" y2="4.3" stroke="#555" stroke-width="0.6"/></g>
<g transform="translate(883.85 43.33) rotate(25.86)"><rect x="0" y="-4.3" width="59.23" height="8.6" fill="#fff"/><line x1="0" y1="-3.8" x2="59.23" y2="-3.8" stroke="#000" stroke-width="1"/><line x1="0" y1="3.8" x2="59.23" y2="3.8" stroke="#000" stroke-width="1"/><line x1="3.5" y1="0" x2="55.73" y2="0" stroke="#000" stroke-width="0.9"/><line x1="0.5" y1="-4.3" x2="0.5" y2="4.3" stroke="#000" stroke-width="0.8"/><line x1="58.73" y1="-4.3" x2="58.73" y2="4.3" stroke="#000" stroke-width="0.8"/><line x1="3.5" y1="-4.3" x2="3.5" y2="4.3" stroke="#555" stroke-width="0.6"/><line x1="55.73" y1="-4.3" x2="55.73" y2="4.3" stroke="#555" stroke-width="0.6"/></g>
<g transform="translate(946.97 77.15) rotate(52.33)"><rect x="0" y="-4.3" width="59.01" height="8.6" fill="#fff"/><line x1="0" y1="-3.8" x2="59.01" y2="-3.8" stroke="#000" stroke-width="1"/><line x1="0" y1="3.8" x2="59.01" y2="3.8" stroke="#000" stroke-width="1"/><line x1="3.5" y1="0" x2="55.51" y2="0" stroke="#000" stroke-width="0.9"/><line x1="0.5" y1="-4.3" x2="0.5" y2="4.3" stroke="#000" stroke-width="0.8"/><line x1="58.51" y1="-4.3" x2="58.51" y2="4.3" stroke="#000" stroke-width="0.8"/><line x1="3.5" y1="-4.3" x2="3.5" y2="4.3" stroke="#555" stroke-width="0.6"/><line x1="55.51" y1="-4.3" x2="55.51" y2="4.3" stroke="#555" stroke-width="0.6"/></g>
<g transform="translate(987 146) rotate(90)"><rect x="0" y="-4.3" width="50.8" height="8.6" fill="#fff"/><line x1="0" y1="-3.8" x2="50.8" y2="-3.8" stroke="#000" stroke-width="1"/><line x1="0" y1="3.8" x2="50.8" y2="3.8" stroke="#000" stroke-width="1"/><line x1="3.5" y1="0" x2="47.3" y2="0" stroke="#000" stroke-width="0.9"/><line x1="0.5" y1="-4.3" x2="0.5" y2="4.3" stroke="#000" stroke-width="0.8"/><line x1="50.3" y1="-4.3" x2="50.3" y2="4.3" stroke="#000" stroke-width="0.8"/><line x1="3.5" y1="-4.3" x2="3.5" y2="4.3" stroke="#555" stroke-width="0.6"/><line x1="47.3" y1="-4.3" x2="47.3" y2="4.3" stroke="#555" stroke-width="0.6"/></g>
<g transform="translate(987 196.8) rotate(90)"><rect x="0" y="-4.6" width="46.8" height="9.2" fill="#fff"/><line x1="0" y1="-3.8" x2="46.8" y2="-3.8" stroke="#000" stroke-width="1"/><line x1="0" y1="3.8" x2="46.8" y2="3.8" stroke="#000" stroke-width="1"/></g>
<g transform="translate(987 243.6) rotate(90)"><rect x="0" y="-4.3" width="51.4" height="8.6" fill="#fff"/><line x1="0" y1="-3.8" x2="51.4" y2="-3.8" stroke="#000" stroke-width="1"/><line x1="0" y1="3.8" x2="51.4" y2="3.8" stroke="#000" stroke-width="1"/><line x1="3.5" y1="0" x2="47.9" y2="0" stroke="#000" stroke-width="0.9"/><line x1="0.5" y1="-4.3" x2="0.5" y2="4.3" stroke="#000" stroke-width="0.8"/><line x1="50.9" y1="-4.3" x2="50.9" y2="4.3" stroke="#000" stroke-width="0.8"/><line x1="3.5" y1="-4.3" x2="3.5" y2="4.3" stroke="#555" stroke-width="0.6"/><line x1="47.9" y1="-4.3" x2="47.9" y2="4.3" stroke="#555" stroke-width="0.6"/></g>
<g transform="translate(994.7 302.2) rotate(0)"><rect x="0" y="-4.2" width="83" height="8.4" fill="#fff"/><line x1="0" y1="-3.7" x2="83" y2="-3.7" stroke="#000" stroke-width="1"/><line x1="0" y1="3.7" x2="83" y2="3.7" stroke="#000" stroke-width="1"/><line x1="3.5" y1="0" x2="79.5" y2="0" stroke="#000" stroke-width="0.9"/><line x1="0.5" y1="-4.2" x2="0.5" y2="4.2" stroke="#000" stroke-width="0.8"/><line x1="82.5" y1="-4.2" x2="82.5" y2="4.2" stroke="#000" stroke-width="0.8"/><line x1="3.5" y1="-4.2" x2="3.5" y2="4.2" stroke="#555" stroke-width="0.6"/><line x1="79.5" y1="-4.2" x2="79.5" y2="4.2" stroke="#555" stroke-width="0.6"/><line x1="39" y1="-4.2" x2="39" y2="4.2" stroke="#000" stroke-width="0.9"/><line x1="43" y1="-4.2" x2="43" y2="4.2" stroke="#000" stroke-width="0.9"/></g>
<g transform="translate(1083 311) rotate(90)"><rect x="0" y="-4.4" width="52.6" height="8.8" fill="#fff"/><line x1="0" y1="-3.9" x2="52.6" y2="-3.9" stroke="#000" stroke-width="1"/><line x1="0" y1="3.9" x2="52.6" y2="3.9" stroke="#000" stroke-width="1"/><line x1="3.5" y1="0" x2="49.1" y2="0" stroke="#000" stroke-width="0.9"/><line x1="0.5" y1="-4.4" x2="0.5" y2="4.4" stroke="#000" stroke-width="0.8"/><line x1="52.1" y1="-4.4" x2="52.1" y2="4.4" stroke="#000" stroke-width="0.8"/><line x1="3.5" y1="-4.4" x2="3.5" y2="4.4" stroke="#555" stroke-width="0.6"/><line x1="49.1" y1="-4.4" x2="49.1" y2="4.4" stroke="#555" stroke-width="0.6"/></g>
<g transform="translate(1116.6 374.4) rotate(0)"><rect x="0" y="-4.5" width="43" height="9" fill="#fff"/><line x1="0" y1="-3.7" x2="43" y2="-3.7" stroke="#000" stroke-width="1"/><line x1="0" y1="3.7" x2="43" y2="3.7" stroke="#000" stroke-width="1"/></g>
<g transform="translate(1259.2 374.4) rotate(0)"><rect x="0" y="-4.2" width="66.4" height="8.4" fill="#fff"/><line x1="0" y1="-3.7" x2="66.4" y2="-3.7" stroke="#000" stroke-width="1"/><line x1="0" y1="3.7" x2="66.4" y2="3.7" stroke="#000" stroke-width="1"/><line x1="3.5" y1="0" x2="62.9" y2="0" stroke="#000" stroke-width="0.9"/><line x1="0.5" y1="-4.2" x2="0.5" y2="4.2" stroke="#000" stroke-width="0.8"/><line x1="65.9" y1="-4.2" x2="65.9" y2="4.2" stroke="#000" stroke-width="0.8"/><line x1="3.5" y1="-4.2" x2="3.5" y2="4.2" stroke="#555" stroke-width="0.6"/><line x1="62.9" y1="-4.2" x2="62.9" y2="4.2" stroke="#555" stroke-width="0.6"/></g>
<g transform="translate(1114.7 467.5) rotate(0)"><rect x="0" y="-3.3" width="43" height="6.6" fill="#fff"/><line x1="0" y1="-2.5" x2="43" y2="-2.5" stroke="#000" stroke-width="1"/><line x1="0" y1="2.5" x2="43" y2="2.5" stroke="#000" stroke-width="1"/></g>
<g transform="translate(1339.3 466.2) rotate(0)"><rect x="0" y="-4.2" width="42" height="8.4" fill="#fff"/><line x1="0" y1="-3.7" x2="42" y2="-3.7" stroke="#000" stroke-width="1"/><line x1="0" y1="3.7" x2="42" y2="3.7" stroke="#000" stroke-width="1"/><line x1="3.5" y1="0" x2="38.5" y2="0" stroke="#000" stroke-width="0.9"/><line x1="0.5" y1="-4.2" x2="0.5" y2="4.2" stroke="#000" stroke-width="0.8"/><line x1="41.5" y1="-4.2" x2="41.5" y2="4.2" stroke="#000" stroke-width="0.8"/><line x1="3.5" y1="-4.2" x2="3.5" y2="4.2" stroke="#555" stroke-width="0.6"/><line x1="38.5" y1="-4.2" x2="38.5" y2="4.2" stroke="#555" stroke-width="0.6"/></g>
<g transform="translate(1402.22 472.92) rotate(45)"><rect x="0" y="-4.2" width="55.5" height="8.4" fill="#fff"/><line x1="0" y1="-3.7" x2="55.5" y2="-3.7" stroke="#000" stroke-width="1"/><line x1="0" y1="3.7" x2="55.5" y2="3.7" stroke="#000" stroke-width="1"/><line x1="3.5" y1="0" x2="52" y2="0" stroke="#000" stroke-width="0.9"/><line x1="0.5" y1="-4.2" x2="0.5" y2="4.2" stroke="#000" stroke-width="0.8"/><line x1="55" y1="-4.2" x2="55" y2="4.2" stroke="#000" stroke-width="0.8"/><line x1="3.5" y1="-4.2" x2="3.5" y2="4.2" stroke="#555" stroke-width="0.6"/><line x1="52" y1="-4.2" x2="52" y2="4.2" stroke="#555" stroke-width="0.6"/></g>
<g transform="translate(1447.7 525) rotate(90)"><rect x="0" y="-3.95" width="49.8" height="7.9" fill="#fff"/><line x1="0" y1="-3.45" x2="49.8" y2="-3.45" stroke="#000" stroke-width="1"/><line x1="0" y1="3.45" x2="49.8" y2="3.45" stroke="#000" stroke-width="1"/><line x1="3.5" y1="0" x2="46.3" y2="0" stroke="#000" stroke-width="0.9"/><line x1="0.5" y1="-3.95" x2="0.5" y2="3.95" stroke="#000" stroke-width="0.8"/><line x1="49.3" y1="-3.95" x2="49.3" y2="3.95" stroke="#000" stroke-width="0.8"/><line x1="3.5" y1="-3.95" x2="3.5" y2="3.95" stroke="#555" stroke-width="0.6"/><line x1="46.3" y1="-3.95" x2="46.3" y2="3.95" stroke="#555" stroke-width="0.6"/></g>
<g transform="translate(1491 644.85) rotate(0)"><rect x="0" y="-4.15" width="51" height="8.3" fill="#fff"/><line x1="0" y1="-3.65" x2="51" y2="-3.65" stroke="#000" stroke-width="1"/><line x1="0" y1="3.65" x2="51" y2="3.65" stroke="#000" stroke-width="1"/><line x1="3.5" y1="0" x2="47.5" y2="0" stroke="#000" stroke-width="0.9"/><line x1="0.5" y1="-4.15" x2="0.5" y2="4.15" stroke="#000" stroke-width="0.8"/><line x1="50.5" y1="-4.15" x2="50.5" y2="4.15" stroke="#000" stroke-width="0.8"/><line x1="3.5" y1="-4.15" x2="3.5" y2="4.15" stroke="#555" stroke-width="0.6"/><line x1="47.5" y1="-4.15" x2="47.5" y2="4.15" stroke="#555" stroke-width="0.6"/></g>
<g transform="translate(1608.7 644.85) rotate(0)"><rect x="0" y="-4.15" width="50.1" height="8.3" fill="#fff"/><line x1="0" y1="-3.65" x2="50.1" y2="-3.65" stroke="#000" stroke-width="1"/><line x1="0" y1="3.65" x2="50.1" y2="3.65" stroke="#000" stroke-width="1"/><line x1="3.5" y1="0" x2="46.6" y2="0" stroke="#000" stroke-width="0.9"/><line x1="0.5" y1="-4.15" x2="0.5" y2="4.15" stroke="#000" stroke-width="0.8"/><line x1="49.6" y1="-4.15" x2="49.6" y2="4.15" stroke="#000" stroke-width="0.8"/><line x1="3.5" y1="-4.15" x2="3.5" y2="4.15" stroke="#555" stroke-width="0.6"/><line x1="46.6" y1="-4.15" x2="46.6" y2="4.15" stroke="#555" stroke-width="0.6"/></g>
<g transform="translate(1698 666.6) rotate(90)"><rect x="0" y="-3.95" width="53.6" height="7.9" fill="#fff"/><line x1="0" y1="-3.45" x2="53.6" y2="-3.45" stroke="#000" stroke-width="1"/><line x1="0" y1="3.45" x2="53.6" y2="3.45" stroke="#000" stroke-width="1"/><line x1="3.5" y1="0" x2="50.1" y2="0" stroke="#000" stroke-width="0.9"/><line x1="0.5" y1="-3.95" x2="0.5" y2="3.95" stroke="#000" stroke-width="0.8"/><line x1="53.1" y1="-3.95" x2="53.1" y2="3.95" stroke="#000" stroke-width="0.8"/><line x1="3.5" y1="-3.95" x2="3.5" y2="3.95" stroke="#555" stroke-width="0.6"/><line x1="50.1" y1="-3.95" x2="50.1" y2="3.95" stroke="#555" stroke-width="0.6"/></g>
<g transform="translate(1698 860.8) rotate(90)"><rect x="0" y="-3.95" width="52.8" height="7.9" fill="#fff"/><line x1="0" y1="-3.45" x2="52.8" y2="-3.45" stroke="#000" stroke-width="1"/><line x1="0" y1="3.45" x2="52.8" y2="3.45" stroke="#000" stroke-width="1"/><line x1="3.5" y1="0" x2="49.3" y2="0" stroke="#000" stroke-width="0.9"/><line x1="0.5" y1="-3.95" x2="0.5" y2="3.95" stroke="#000" stroke-width="0.8"/><line x1="52.3" y1="-3.95" x2="52.3" y2="3.95" stroke="#000" stroke-width="0.8"/><line x1="3.5" y1="-3.95" x2="3.5" y2="3.95" stroke="#555" stroke-width="0.6"/><line x1="49.3" y1="-3.95" x2="49.3" y2="3.95" stroke="#555" stroke-width="0.6"/></g>
<g transform="translate(1492.3 933.5) rotate(0)"><rect x="0" y="-4.25" width="50.3" height="8.5" fill="#fff"/><line x1="0" y1="-3.75" x2="50.3" y2="-3.75" stroke="#000" stroke-width="1"/><line x1="0" y1="3.75" x2="50.3" y2="3.75" stroke="#000" stroke-width="1"/><line x1="3.5" y1="0" x2="46.8" y2="0" stroke="#000" stroke-width="0.9"/><line x1="0.5" y1="-4.25" x2="0.5" y2="4.25" stroke="#000" stroke-width="0.8"/><line x1="49.8" y1="-4.25" x2="49.8" y2="4.25" stroke="#000" stroke-width="0.8"/><line x1="3.5" y1="-4.25" x2="3.5" y2="4.25" stroke="#555" stroke-width="0.6"/><line x1="46.8" y1="-4.25" x2="46.8" y2="4.25" stroke="#555" stroke-width="0.6"/></g>
<g transform="translate(1599.9 933.5) rotate(0)"><rect x="0" y="-4.25" width="51" height="8.5" fill="#fff"/><line x1="0" y1="-3.75" x2="51" y2="-3.75" stroke="#000" stroke-width="1"/><line x1="0" y1="3.75" x2="51" y2="3.75" stroke="#000" stroke-width="1"/><line x1="3.5" y1="0" x2="47.5" y2="0" stroke="#000" stroke-width="0.9"/><line x1="0.5" y1="-4.25" x2="0.5" y2="4.25" stroke="#000" stroke-width="0.8"/><line x1="50.5" y1="-4.25" x2="50.5" y2="4.25" stroke="#000" stroke-width="0.8"/><line x1="3.5" y1="-4.25" x2="3.5" y2="4.25" stroke="#555" stroke-width="0.6"/><line x1="47.5" y1="-4.25" x2="47.5" y2="4.25" stroke="#555" stroke-width="0.6"/></g>
<g transform="translate(1160.3 1074.3) rotate(0)"><rect x="0" y="-4.1" width="39.9" height="8.2" fill="#fff"/><line x1="0" y1="-3.6" x2="39.9" y2="-3.6" stroke="#000" stroke-width="1"/><line x1="0" y1="3.6" x2="39.9" y2="3.6" stroke="#000" stroke-width="1"/><line x1="3.5" y1="0" x2="36.4" y2="0" stroke="#000" stroke-width="0.9"/><line x1="0.5" y1="-4.1" x2="0.5" y2="4.1" stroke="#000" stroke-width="0.8"/><line x1="39.4" y1="-4.1" x2="39.4" y2="4.1" stroke="#000" stroke-width="0.8"/><line x1="3.5" y1="-4.1" x2="3.5" y2="4.1" stroke="#555" stroke-width="0.6"/><line x1="36.4" y1="-4.1" x2="36.4" y2="4.1" stroke="#555" stroke-width="0.6"/></g>
<g transform="translate(1261.1 1074.3) rotate(0)"><rect x="0" y="-4.1" width="40.6" height="8.2" fill="#fff"/><line x1="0" y1="-3.6" x2="40.6" y2="-3.6" stroke="#000" stroke-width="1"/><line x1="0" y1="3.6" x2="40.6" y2="3.6" stroke="#000" stroke-width="1"/><line x1="3.5" y1="0" x2="37.1" y2="0" stroke="#000" stroke-width="0.9"/><line x1="0.5" y1="-4.1" x2="0.5" y2="4.1" stroke="#000" stroke-width="0.8"/><line x1="40.1" y1="-4.1" x2="40.1" y2="4.1" stroke="#000" stroke-width="0.8"/><line x1="3.5" y1="-4.1" x2="3.5" y2="4.1" stroke="#555" stroke-width="0.6"/><line x1="37.1" y1="-4.1" x2="37.1" y2="4.1" stroke="#555" stroke-width="0.6"/></g>
<g transform="translate(1374.4 1074.3) rotate(0)"><rect x="0" y="-4.1" width="39.8" height="8.2" fill="#fff"/><line x1="0" y1="-3.6" x2="39.8" y2="-3.6" stroke="#000" stroke-width="1"/><line x1="0" y1="3.6" x2="39.8" y2="3.6" stroke="#000" stroke-width="1"/><line x1="3.5" y1="0" x2="36.3" y2="0" stroke="#000" stroke-width="0.9"/><line x1="0.5" y1="-4.1" x2="0.5" y2="4.1" stroke="#000" stroke-width="0.8"/><line x1="39.3" y1="-4.1" x2="39.3" y2="4.1" stroke="#000" stroke-width="0.8"/><line x1="3.5" y1="-4.1" x2="3.5" y2="4.1" stroke="#555" stroke-width="0.6"/><line x1="36.3" y1="-4.1" x2="36.3" y2="4.1" stroke="#555" stroke-width="0.6"/></g>
<g transform="translate(969.6 1074.3) rotate(0)"><rect x="0" y="-4.4" width="104.4" height="8.8" fill="#fff"/><line x1="0" y1="-3.6" x2="104.4" y2="-3.6" stroke="#000" stroke-width="1"/><line x1="0" y1="3.6" x2="104.4" y2="3.6" stroke="#000" stroke-width="1"/></g>
<g transform="translate(706.9 1039.6) rotate(0)"><rect x="0" y="-4.12" width="59.8" height="8.25" fill="#fff"/><line x1="0" y1="-3.62" x2="59.8" y2="-3.62" stroke="#000" stroke-width="1"/><line x1="0" y1="3.62" x2="59.8" y2="3.62" stroke="#000" stroke-width="1"/><line x1="3.5" y1="0" x2="56.3" y2="0" stroke="#000" stroke-width="0.9"/><line x1="0.5" y1="-4.12" x2="0.5" y2="4.12" stroke="#000" stroke-width="0.8"/><line x1="59.3" y1="-4.12" x2="59.3" y2="4.12" stroke="#000" stroke-width="0.8"/><line x1="3.5" y1="-4.12" x2="3.5" y2="4.12" stroke="#555" stroke-width="0.6"/><line x1="56.3" y1="-4.12" x2="56.3" y2="4.12" stroke="#555" stroke-width="0.6"/></g>
<g transform="translate(812.5 1039.6) rotate(0)"><rect x="0" y="-4.12" width="59.7" height="8.25" fill="#fff"/><line x1="0" y1="-3.62" x2="59.7" y2="-3.62" stroke="#000" stroke-width="1"/><line x1="0" y1="3.62" x2="59.7" y2="3.62" stroke="#000" stroke-width="1"/><line x1="3.5" y1="0" x2="56.2" y2="0" stroke="#000" stroke-width="0.9"/><line x1="0.5" y1="-4.12" x2="0.5" y2="4.12" stroke="#000" stroke-width="0.8"/><line x1="59.2" y1="-4.12" x2="59.2" y2="4.12" stroke="#000" stroke-width="0.8"/><line x1="3.5" y1="-4.12" x2="3.5" y2="4.12" stroke="#555" stroke-width="0.6"/><line x1="56.2" y1="-4.12" x2="56.2" y2="4.12" stroke="#555" stroke-width="0.6"/></g>
<g transform="translate(659.7 1123.7) rotate(90)"><rect x="0" y="-4.2" width="67" height="8.4" fill="#fff"/><line x1="0" y1="-3.7" x2="67" y2="-3.7" stroke="#000" stroke-width="1"/><line x1="0" y1="3.7" x2="67" y2="3.7" stroke="#000" stroke-width="1"/><line x1="3.5" y1="0" x2="63.5" y2="0" stroke="#000" stroke-width="0.9"/><line x1="0.5" y1="-4.2" x2="0.5" y2="4.2" stroke="#000" stroke-width="0.8"/><line x1="66.5" y1="-4.2" x2="66.5" y2="4.2" stroke="#000" stroke-width="0.8"/><line x1="3.5" y1="-4.2" x2="3.5" y2="4.2" stroke="#555" stroke-width="0.6"/><line x1="63.5" y1="-4.2" x2="63.5" y2="4.2" stroke="#555" stroke-width="0.6"/></g>
<g transform="translate(389.5 1273.5) rotate(0)"><rect x="0" y="-4" width="53.4" height="8" fill="#fff"/><line x1="0" y1="-3.5" x2="53.4" y2="-3.5" stroke="#000" stroke-width="1"/><line x1="0" y1="3.5" x2="53.4" y2="3.5" stroke="#000" stroke-width="1"/><line x1="3.5" y1="0" x2="49.9" y2="0" stroke="#000" stroke-width="0.9"/><line x1="0.5" y1="-4" x2="0.5" y2="4" stroke="#000" stroke-width="0.8"/><line x1="52.9" y1="-4" x2="52.9" y2="4" stroke="#000" stroke-width="0.8"/><line x1="3.5" y1="-4" x2="3.5" y2="4" stroke="#555" stroke-width="0.6"/><line x1="49.9" y1="-4" x2="49.9" y2="4" stroke="#555" stroke-width="0.6"/></g>
<g transform="translate(471.2 1273.5) rotate(0)"><rect x="0" y="-4" width="52.9" height="8" fill="#fff"/><line x1="0" y1="-3.5" x2="52.9" y2="-3.5" stroke="#000" stroke-width="1"/><line x1="0" y1="3.5" x2="52.9" y2="3.5" stroke="#000" stroke-width="1"/><line x1="3.5" y1="0" x2="49.4" y2="0" stroke="#000" stroke-width="0.9"/><line x1="0.5" y1="-4" x2="0.5" y2="4" stroke="#000" stroke-width="0.8"/><line x1="52.4" y1="-4" x2="52.4" y2="4" stroke="#000" stroke-width="0.8"/><line x1="3.5" y1="-4" x2="3.5" y2="4" stroke="#555" stroke-width="0.6"/><line x1="49.4" y1="-4" x2="49.4" y2="4" stroke="#555" stroke-width="0.6"/></g>
<g transform="translate(564.1 1273.5) rotate(0)"><rect x="0" y="-4" width="53.8" height="8" fill="#fff"/><line x1="0" y1="-3.5" x2="53.8" y2="-3.5" stroke="#000" stroke-width="1"/><line x1="0" y1="3.5" x2="53.8" y2="3.5" stroke="#000" stroke-width="1"/><line x1="3.5" y1="0" x2="50.3" y2="0" stroke="#000" stroke-width="0.9"/><line x1="0.5" y1="-4" x2="0.5" y2="4" stroke="#000" stroke-width="0.8"/><line x1="53.3" y1="-4" x2="53.3" y2="4" stroke="#000" stroke-width="0.8"/><line x1="3.5" y1="-4" x2="3.5" y2="4" stroke="#555" stroke-width="0.6"/><line x1="50.3" y1="-4" x2="50.3" y2="4" stroke="#555" stroke-width="0.6"/></g>
<g transform="translate(350 693) rotate(90)"><rect x="0" y="-4.4" width="50" height="8.8" fill="#fff"/><line x1="0" y1="-3.9" x2="50" y2="-3.9" stroke="#000" stroke-width="1"/><line x1="0" y1="3.9" x2="50" y2="3.9" stroke="#000" stroke-width="1"/><line x1="3.5" y1="0" x2="46.5" y2="0" stroke="#000" stroke-width="0.9"/><line x1="0.5" y1="-4.4" x2="0.5" y2="4.4" stroke="#000" stroke-width="0.8"/><line x1="49.5" y1="-4.4" x2="49.5" y2="4.4" stroke="#000" stroke-width="0.8"/><line x1="3.5" y1="-4.4" x2="3.5" y2="4.4" stroke="#555" stroke-width="0.6"/><line x1="46.5" y1="-4.4" x2="46.5" y2="4.4" stroke="#555" stroke-width="0.6"/></g>
<rect x="345.7" y="755.5" width="8.8" height="162.3" fill="#fff"/>
<line x1="346.2" y1="755.5" x2="346.2" y2="917.8" stroke="#000" stroke-width="1"/>
<rect x="349.6" y="755.5" width="4.9" height="162.3" fill="#8a8a8a"/>
<line x1="354.2" y1="755.5" x2="354.2" y2="917.8" stroke="#333" stroke-width="1"/>
<line x1="345.7" y1="756" x2="354.5" y2="756" stroke="#000" stroke-width="1"/>
<line x1="345.7" y1="917.3" x2="354.5" y2="917.3" stroke="#000" stroke-width="1"/>
<rect x="345.7" y="924" width="8.8" height="162.5" fill="#fff"/>
<line x1="346.2" y1="924" x2="346.2" y2="1086.5" stroke="#000" stroke-width="1"/>
<rect x="349.6" y="924" width="4.9" height="162.5" fill="#8a8a8a"/>
<line x1="354.2" y1="924" x2="354.2" y2="1086.5" stroke="#333" stroke-width="1"/>
<line x1="345.7" y1="924.5" x2="354.5" y2="924.5" stroke="#000" stroke-width="1"/>
<line x1="345.7" y1="1086" x2="354.5" y2="1086" stroke="#000" stroke-width="1"/>
<rect x="345.7" y="1092.5" width="8.8" height="163.3" fill="#fff"/>
<line x1="346.2" y1="1092.5" x2="346.2" y2="1255.8" stroke="#000" stroke-width="1"/>
<rect x="349.6" y="1092.5" width="4.9" height="163.3" fill="#8a8a8a"/>
<line x1="354.2" y1="1092.5" x2="354.2" y2="1255.8" stroke="#333" stroke-width="1"/>
<line x1="345.7" y1="1093" x2="354.5" y2="1093" stroke="#000" stroke-width="1"/>
<line x1="345.7" y1="1255.3" x2="354.5" y2="1255.3" stroke="#000" stroke-width="1"/>
<g transform="translate(832.6 801.56) rotate(45.01)"><rect x="0" y="-3.4" width="82.9" height="6.8" fill="#fff"/><line x1="0" y1="-2.6" x2="82.9" y2="-2.6" stroke="#000" stroke-width="1"/><line x1="0" y1="2.6" x2="82.9" y2="2.6" stroke="#000" stroke-width="1"/></g>
<g transform="translate(986.7 597.8) rotate(138.62)"><rect x="0" y="-3.05" width="43.72" height="6.1" fill="#fff"/><line x1="0" y1="-2.25" x2="43.72" y2="-2.25" stroke="#000" stroke-width="1"/><line x1="0" y1="2.25" x2="43.72" y2="2.25" stroke="#000" stroke-width="1"/></g>
<g transform="translate(672.3 706) rotate(-44.81)"><rect x="0" y="-4.05" width="42.57" height="8.1" fill="#fff"/><line x1="0" y1="-3.25" x2="42.57" y2="-3.25" stroke="#000" stroke-width="1"/><line x1="0" y1="3.25" x2="42.57" y2="3.25" stroke="#000" stroke-width="1"/></g>
<g transform="translate(1156.7 773.3) rotate(-41.54)"><rect x="0" y="-3.3" width="45.69" height="6.6" fill="#fff"/><line x1="0" y1="-2.5" x2="45.69" y2="-2.5" stroke="#000" stroke-width="1"/><line x1="0" y1="2.5" x2="45.69" y2="2.5" stroke="#000" stroke-width="1"/></g>
<g transform="translate(567.1 628) rotate(90)"><rect x="0" y="-3" width="44" height="6" fill="#fff"/><line x1="0" y1="-2.2" x2="44" y2="-2.2" stroke="#000" stroke-width="1"/><line x1="0" y1="2.2" x2="44" y2="2.2" stroke="#000" stroke-width="1"/></g>
<g transform="translate(567.1 697) rotate(90)"><rect x="0" y="-3" width="46" height="6" fill="#fff"/><line x1="0" y1="-2.2" x2="46" y2="-2.2" stroke="#000" stroke-width="1"/><line x1="0" y1="2.2" x2="46" y2="2.2" stroke="#000" stroke-width="1"/></g>
<line x1="700" y1="202.6" x2="744" y2="202.6" stroke="#000" stroke-width="1"/>
<path d="M 744 202.6 A 44 44 0 0 1 700 246.6" fill="none" stroke="#000" stroke-width="1"/>
<line x1="983" y1="197.7" x2="937.3" y2="197.7" stroke="#000" stroke-width="1"/>
<path d="M 937.3 197.7 A 45.7 45.7 0 0 0 983 243.6" fill="none" stroke="#000" stroke-width="1"/>
<line x1="1116.7" y1="378.7" x2="1116.7" y2="421.3" stroke="#000" stroke-width="1"/>
<path d="M 1116.7 421.3 A 42.6 42.6 0 0 0 1159.6 378.7" fill="none" stroke="#000" stroke-width="1"/>
<line x1="1157" y1="470.5" x2="1157" y2="513.4" stroke="#000" stroke-width="1"/>
<path d="M 1114.8 470.5 A 42.5 42.5 0 0 0 1157 513.4" fill="none" stroke="#000" stroke-width="1"/>
<line x1="570" y1="628" x2="612" y2="628" stroke="#000" stroke-width="1"/>
<path d="M 612 628 A 42 42 0 0 1 570 672" fill="none" stroke="#000" stroke-width="1"/>
<line x1="570" y1="742" x2="614" y2="742" stroke="#000" stroke-width="1"/>
<path d="M 570 698 A 44 44 0 0 1 614 742" fill="none" stroke="#000" stroke-width="1"/>
<line x1="671.9" y1="704.6" x2="643.4" y2="673.5" stroke="#000" stroke-width="1"/>
<path d="M 643.4 673.5 A 42.18 42.18 0 0 1 702 674.5" fill="none" stroke="#000" stroke-width="1"/>
<line x1="953.9" y1="626.7" x2="925" y2="590.8" stroke="#000" stroke-width="1"/>
<path d="M 925 590.8 A 46.09 46.09 0 0 1 986.7 596" fill="none" stroke="#000" stroke-width="1"/>
<line x1="1156.7" y1="771.3" x2="1127.4" y2="741" stroke="#000" stroke-width="1"/>
<path d="M 1127.4 741 A 42.15 42.15 0 0 1 1189 743" fill="none" stroke="#000" stroke-width="1"/>
<line x1="830.4" y1="801.7" x2="800.4" y2="831.8" stroke="#000" stroke-width="1"/>
<path d="M 800.4 831.8 A 42.5 42.5 0 0 0 859.7 831.8" fill="none" stroke="#000" stroke-width="1"/>
<line x1="890.5" y1="861" x2="859.7" y2="891.1" stroke="#000" stroke-width="1"/>
<path d="M 859.7 891.1 A 43.07 43.07 0 0 1 859.7 831.8" fill="none" stroke="#000" stroke-width="1"/>
<line x1="969.6" y1="1069.9" x2="969.6" y2="1018" stroke="#000" stroke-width="1"/>
<path d="M 969.6 1018 A 51.9 51.9 0 0 1 1021.6 1069.9" fill="none" stroke="#000" stroke-width="1"/>
<line x1="1074" y1="1069.9" x2="1074" y2="1018" stroke="#000" stroke-width="1"/>
<path d="M 1074 1018 A 51.9 51.9 0 0 0 1021.6 1069.9" fill="none" stroke="#000" stroke-width="1"/>
<line x1="1063.8" y1="802.7" x2="1063.8" y2="830.5" stroke="#000" stroke-width="1"/>
<path d="M 1063.8 830.5 A 27.8 27.8 0 0 0 1091.6 802.7" fill="none" stroke="#000" stroke-width="1"/>
<line x1="1119.5" y1="802.7" x2="1119.5" y2="830.5" stroke="#000" stroke-width="1"/>
<path d="M 1119.5 830.5 A 27.8 27.8 0 0 1 1091.6 802.7" fill="none" stroke="#000" stroke-width="1"/>
<text x="838.7" y="199.7" font-family="Liberation Sans" font-size="12.6" font-weight="normal" fill="#1e1e1e" text-anchor="middle" textLength="65.4" lengthAdjust="spacingAndGlyphs" stroke="#1e1e1e" stroke-width="0.2" word-spacing="1.2">SUNROOM</text>
<text x="838.7" y="214.3" font-family="Liberation Sans" font-size="12.6" font-weight="normal" fill="#1e1e1e" text-anchor="middle" textLength="79.2" lengthAdjust="spacingAndGlyphs" stroke="#1e1e1e" stroke-width="0.2" word-spacing="1.2">17'6" X 20'1"</text>
<text x="1181.3" y="282" font-family="Liberation Sans" font-size="12.6" font-weight="normal" fill="#1e1e1e" text-anchor="middle" textLength="34.6" lengthAdjust="spacingAndGlyphs" stroke="#1e1e1e" stroke-width="0.2" word-spacing="1.2">DECK</text>
<text x="1181.6" y="297.2" font-family="Liberation Sans" font-size="12.6" font-weight="normal" fill="#1e1e1e" text-anchor="middle" textLength="80.2" lengthAdjust="spacingAndGlyphs" stroke="#1e1e1e" stroke-width="0.2" word-spacing="1.2">25'4" X 12'7"</text>
<text x="536.9" y="442.7" font-family="Liberation Sans" font-size="12.6" font-weight="normal" fill="#1e1e1e" text-anchor="middle" textLength="86" lengthAdjust="spacingAndGlyphs" stroke="#1e1e1e" stroke-width="0.2" word-spacing="1.2">FAMILY ROOM</text>
<text x="536.8" y="457.9" font-family="Liberation Sans" font-size="12.6" font-weight="normal" fill="#1e1e1e" text-anchor="middle" textLength="87" lengthAdjust="spacingAndGlyphs" stroke="#1e1e1e" stroke-width="0.2" word-spacing="1.2">21'1" X 21'11"</text>
<text x="772.55" y="523.2" font-family="Liberation Sans" font-size="12.6" font-weight="normal" fill="#1e1e1e" text-anchor="middle" textLength="113.3" lengthAdjust="spacingAndGlyphs" stroke="#1e1e1e" stroke-width="0.2" word-spacing="1.2">BREAKFAST NOOK</text>
<text x="772.5" y="538.8" font-family="Liberation Sans" font-size="12.6" font-weight="normal" fill="#1e1e1e" text-anchor="middle" textLength="80" lengthAdjust="spacingAndGlyphs" stroke="#1e1e1e" stroke-width="0.2" word-spacing="1.2">12'7" X 20'6"</text>
<text x="917.55" y="559.3" font-family="Liberation Sans" font-size="12.6" font-weight="normal" fill="#1e1e1e" text-anchor="middle" textLength="55.7" lengthAdjust="spacingAndGlyphs" stroke="#1e1e1e" stroke-width="0.2" word-spacing="1.2">KITCHEN</text>
<text x="918.05" y="574" font-family="Liberation Sans" font-size="12.6" font-weight="normal" fill="#1e1e1e" text-anchor="middle" textLength="78.1" lengthAdjust="spacingAndGlyphs" stroke="#1e1e1e" stroke-width="0.2" word-spacing="1.2">14'5" X 23'2"</text>
<text x="1136.65" y="415.3" font-family="Liberation Sans" font-size="12.6" font-weight="normal" fill="#1e1e1e" text-anchor="middle" textLength="31.3" lengthAdjust="spacingAndGlyphs" stroke="#1e1e1e" stroke-width="0.2" word-spacing="1.2">HALL</text>
<text x="1136.65" y="430.3" font-family="Liberation Sans" font-size="12.6" font-weight="normal" fill="#1e1e1e" text-anchor="middle" textLength="64.5" lengthAdjust="spacingAndGlyphs" stroke="#1e1e1e" stroke-width="0.2" word-spacing="1.2">6'6" X 5'4"</text>
<text x="1262" y="405.9" font-family="Liberation Sans" font-size="12.6" font-weight="normal" fill="#1e1e1e" text-anchor="middle" textLength="87" lengthAdjust="spacingAndGlyphs" stroke="#1e1e1e" stroke-width="0.2" word-spacing="1.2">KITCHENETTE</text>
<text x="1261.7" y="420.2" font-family="Liberation Sans" font-size="12.6" font-weight="normal" fill="#1e1e1e" text-anchor="middle" textLength="64.4" lengthAdjust="spacingAndGlyphs" stroke="#1e1e1e" stroke-width="0.2" word-spacing="1.2">8'5" X 5'4"</text>
<text x="1140.9" y="563" font-family="Liberation Sans" font-size="12.6" font-weight="normal" fill="#1e1e1e" text-anchor="middle" textLength="31.2" lengthAdjust="spacingAndGlyphs" stroke="#1e1e1e" stroke-width="0.2" word-spacing="1.2">HALL</text>
<text x="1140.5" y="578.4" font-family="Liberation Sans" font-size="12.6" font-weight="normal" fill="#1e1e1e" text-anchor="middle" textLength="72" lengthAdjust="spacingAndGlyphs" stroke="#1e1e1e" stroke-width="0.2" word-spacing="1.2">6'6" X 13'1"</text>
<text x="1014.05" y="624.4" font-family="Liberation Sans" font-size="12.6" font-weight="normal" fill="#1e1e1e" text-anchor="middle" textLength="47.9" lengthAdjust="spacingAndGlyphs" stroke="#1e1e1e" stroke-width="0.2" word-spacing="1.2">PANTRY</text>
<text x="1014.05" y="639.2" font-family="Liberation Sans" font-size="12.6" font-weight="normal" fill="#1e1e1e" text-anchor="middle" textLength="63.5" lengthAdjust="spacingAndGlyphs" stroke="#1e1e1e" stroke-width="0.2" word-spacing="1.2">8'2" X 6'5"</text>
<text x="1319.28" y="628.5" font-family="Liberation Sans" font-size="12.6" font-weight="normal" fill="#1e1e1e" text-anchor="middle" textLength="85.95" lengthAdjust="spacingAndGlyphs" stroke="#1e1e1e" stroke-width="0.2" word-spacing="1.2">DINING AREA</text>
<text x="1319.25" y="643.6" font-family="Liberation Sans" font-size="12.6" font-weight="normal" fill="#1e1e1e" text-anchor="middle" textLength="80.1" lengthAdjust="spacingAndGlyphs" stroke="#1e1e1e" stroke-width="0.2" word-spacing="1.2">15'5" X 19'7"</text>
<text x="623.55" y="673.5" font-family="Liberation Sans" font-size="12.6" font-weight="normal" fill="#1e1e1e" text-anchor="middle" textLength="31.1" lengthAdjust="spacingAndGlyphs" stroke="#1e1e1e" stroke-width="0.2" word-spacing="1.2">HALL</text>
<text x="623" y="688.5" font-family="Liberation Sans" font-size="12.6" font-weight="normal" fill="#1e1e1e" text-anchor="middle" textLength="64.4" lengthAdjust="spacingAndGlyphs" stroke="#1e1e1e" stroke-width="0.2" word-spacing="1.2">8'3" X 8'1"</text>
<text x="705.8" y="705.2" font-family="Liberation Sans" font-size="12.6" font-weight="normal" fill="#1e1e1e" text-anchor="middle" textLength="31" lengthAdjust="spacingAndGlyphs" stroke="#1e1e1e" stroke-width="0.2" word-spacing="1.2">BATH</text>
<text x="704.7" y="720.5" font-family="Liberation Sans" font-size="12.6" font-weight="normal" fill="#1e1e1e" text-anchor="middle" textLength="65.4" lengthAdjust="spacingAndGlyphs" stroke="#1e1e1e" stroke-width="0.2" word-spacing="1.2">7'1" X 5'8"</text>
<text x="1129.35" y="723.5" font-family="Liberation Sans" font-size="12.6" font-weight="normal" fill="#1e1e1e" text-anchor="middle" textLength="32.3" lengthAdjust="spacingAndGlyphs" stroke="#1e1e1e" stroke-width="0.2" word-spacing="1.2">BATH</text>
<text x="1129.85" y="739.1" font-family="Liberation Sans" font-size="12.6" font-weight="normal" fill="#1e1e1e" text-anchor="middle" textLength="72.3" lengthAdjust="spacingAndGlyphs" stroke="#1e1e1e" stroke-width="0.2" word-spacing="1.2">7'11" X 5'4"</text>
<text x="1571.4" y="788.75" font-family="Liberation Sans" font-size="12.6" font-weight="normal" fill="#1e1e1e" text-anchor="middle" textLength="38.8" lengthAdjust="spacingAndGlyphs" stroke="#1e1e1e" stroke-width="0.2" word-spacing="1.2">ROOM</text>
<text x="1571.4" y="804.6" font-family="Liberation Sans" font-size="12.6" font-weight="normal" fill="#1e1e1e" text-anchor="middle" textLength="79.2" lengthAdjust="spacingAndGlyphs" stroke="#1e1e1e" stroke-width="0.2" word-spacing="1.2">15'2" X 17'4"</text>
<text x="799.3" y="917.9" font-family="Liberation Sans" font-size="12.6" font-weight="normal" fill="#1e1e1e" text-anchor="middle" textLength="45.6" lengthAdjust="spacingAndGlyphs" stroke="#1e1e1e" stroke-width="0.2" word-spacing="1.2">OFFICE</text>
<text x="799.3" y="932.8" font-family="Liberation Sans" font-size="12.6" font-weight="normal" fill="#1e1e1e" text-anchor="middle" textLength="79.4" lengthAdjust="spacingAndGlyphs" stroke="#1e1e1e" stroke-width="0.2" word-spacing="1.2">16'0" X 16'1"</text>
<text x="1019.9" y="927.9" font-family="Liberation Sans" font-size="12.6" font-weight="normal" fill="#1e1e1e" text-anchor="middle" textLength="40.6" lengthAdjust="spacingAndGlyphs" stroke="#1e1e1e" stroke-width="0.2" word-spacing="1.2">FOYER</text>
<text x="1019.85" y="942.6" font-family="Liberation Sans" font-size="12.6" font-weight="normal" fill="#1e1e1e" text-anchor="middle" textLength="78.7" lengthAdjust="spacingAndGlyphs" stroke="#1e1e1e" stroke-width="0.2" word-spacing="1.2">14'1" X 17'1"</text>
<text x="1281.8" y="927.5" font-family="Liberation Sans" font-size="12.6" font-weight="normal" fill="#1e1e1e" text-anchor="middle" textLength="86.2" lengthAdjust="spacingAndGlyphs" stroke="#1e1e1e" stroke-width="0.2" word-spacing="1.2">LIVING ROOM</text>
<text x="1282.1" y="942.5" font-family="Liberation Sans" font-size="12.6" font-weight="normal" fill="#1e1e1e" text-anchor="middle" textLength="86.8" lengthAdjust="spacingAndGlyphs" stroke="#1e1e1e" stroke-width="0.2" word-spacing="1.2">19'11" X 20'1"</text>
<text x="500.35" y="994.3" font-family="Liberation Sans" font-size="12.6" font-weight="normal" fill="#1e1e1e" text-anchor="middle" textLength="52.9" lengthAdjust="spacingAndGlyphs" stroke="#1e1e1e" stroke-width="0.2" word-spacing="1.2">GARAGE</text>
<text x="499.95" y="1009" font-family="Liberation Sans" font-size="12.6" font-weight="normal" fill="#1e1e1e" text-anchor="middle" textLength="87.1" lengthAdjust="spacingAndGlyphs" stroke="#1e1e1e" stroke-width="0.2" word-spacing="1.2">18'7" X 35'10"</text>
<text x="925.42" y="1368.3" font-family="Liberation Sans" font-size="18.7" font-weight="bold" fill="#111" text-anchor="start" textLength="78.33" lengthAdjust="spacingAndGlyphs" stroke="#111" stroke-width="0.15" letter-spacing="0.64">TOTAL:</text>
<text x="1006.94" y="1368.3" font-family="Liberation Sans" font-size="18.7" font-weight="bold" fill="#111" text-anchor="start" textLength="54.81" lengthAdjust="spacingAndGlyphs" stroke="#111" stroke-width="0.15" letter-spacing="1.67">7941</text>
<text x="1067.89" y="1368.3" font-family="Liberation Sans" font-size="18.7" font-weight="bold" fill="#111" text-anchor="start" textLength="29.59" lengthAdjust="spacingAndGlyphs" stroke="#111" stroke-width="0.15">sq.</text>
<text x="1104.42" y="1368.3" font-family="Liberation Sans" font-size="18.7" font-weight="bold" fill="#111" text-anchor="start" textLength="21.6" lengthAdjust="spacingAndGlyphs" stroke="#111" stroke-width="0.15" letter-spacing="2.77">ft</text>
<text x="665.94" y="1390.9" font-family="Liberation Sans" font-size="18.7" font-weight="normal" fill="#111" text-anchor="start" textLength="68.22" lengthAdjust="spacingAndGlyphs" stroke="#111" stroke-width="0.15">BELOW</text>
<text x="741.52" y="1390.9" font-family="Liberation Sans" font-size="18.7" font-weight="normal" fill="#111" text-anchor="start" textLength="95.49" lengthAdjust="spacingAndGlyphs" stroke="#111" stroke-width="0.15">GROUND:</text>
<text x="843.05" y="1390.9" font-family="Liberation Sans" font-size="18.7" font-weight="normal" fill="#111" text-anchor="start" textLength="49.33" lengthAdjust="spacingAndGlyphs" stroke="#111" stroke-width="0.15" letter-spacing="0.67">2101</text>
<text x="898.31" y="1390.9" font-family="Liberation Sans" font-size="18.7" font-weight="normal" fill="#111" text-anchor="start" textLength="29.81" lengthAdjust="spacingAndGlyphs" stroke="#111" stroke-width="0.15" letter-spacing="0.2">sq.</text>
<text x="933.26" y="1390.9" font-family="Liberation Sans" font-size="18.7" font-weight="normal" fill="#111" text-anchor="start" textLength="23.55" lengthAdjust="spacingAndGlyphs" stroke="#111" stroke-width="0.15" letter-spacing="1.26">ft,</text>
<text x="960.15" y="1390.9" font-family="Liberation Sans" font-size="18.7" font-weight="normal" fill="#111" text-anchor="start" textLength="65.75" lengthAdjust="spacingAndGlyphs" stroke="#111" stroke-width="0.15">FLOOR</text>
<text x="1031.36" y="1390.9" font-family="Liberation Sans" font-size="18.7" font-weight="normal" fill="#111" text-anchor="start" textLength="23.45" lengthAdjust="spacingAndGlyphs" stroke="#111" stroke-width="0.15" letter-spacing="1.43">2:</text>
<text x="1060.47" y="1390.9" font-family="Liberation Sans" font-size="18.7" font-weight="normal" fill="#111" text-anchor="start" textLength="50.12" lengthAdjust="spacingAndGlyphs" stroke="#111" stroke-width="0.15" letter-spacing="0.83">3145</text>
<text x="1116.05" y="1390.9" font-family="Liberation Sans" font-size="18.7" font-weight="normal" fill="#111" text-anchor="start" textLength="30.07" lengthAdjust="spacingAndGlyphs" stroke="#111" stroke-width="0.15" letter-spacing="0.45">sq.</text>
<text x="1151.58" y="1390.9" font-family="Liberation Sans" font-size="18.7" font-weight="normal" fill="#111" text-anchor="start" textLength="22.44" lengthAdjust="spacingAndGlyphs" stroke="#111" stroke-width="0.15" letter-spacing="1.17">ft,</text>
<text x="1178.1" y="1390.9" font-family="Liberation Sans" font-size="18.7" font-weight="normal" fill="#111" text-anchor="start" textLength="65.22" lengthAdjust="spacingAndGlyphs" stroke="#111" stroke-width="0.15">FLOOR</text>
<text x="1248.94" y="1390.9" font-family="Liberation Sans" font-size="18.7" font-weight="normal" fill="#111" text-anchor="start" textLength="20.18" lengthAdjust="spacingAndGlyphs" stroke="#111" stroke-width="0.15" letter-spacing="0.48">3:</text>
<text x="1276.31" y="1390.9" font-family="Liberation Sans" font-size="18.7" font-weight="normal" fill="#111" text-anchor="start" textLength="50.86" lengthAdjust="spacingAndGlyphs" stroke="#111" stroke-width="0.15" letter-spacing="0.88">2695</text>
<text x="1332.31" y="1390.9" font-family="Liberation Sans" font-size="18.7" font-weight="normal" fill="#111" text-anchor="start" textLength="29.49" lengthAdjust="spacingAndGlyphs" stroke="#111" stroke-width="0.15" letter-spacing="0.32">sq.</text>
<text x="1368.37" y="1390.9" font-family="Liberation Sans" font-size="18.7" font-weight="normal" fill="#111" text-anchor="start" textLength="15.96" lengthAdjust="spacingAndGlyphs" stroke="#111" stroke-width="0.15" letter-spacing="1.9">ft</text>
<text x="637.73" y="1413.4" font-family="Liberation Sans" font-size="18.7" font-weight="normal" fill="#111" text-anchor="start" textLength="103.17" lengthAdjust="spacingAndGlyphs" stroke="#111" stroke-width="0.15">EXCLUDED</text>
<text x="748.26" y="1413.4" font-family="Liberation Sans" font-size="18.7" font-weight="normal" fill="#111" text-anchor="start" textLength="72.17" lengthAdjust="spacingAndGlyphs" stroke="#111" stroke-width="0.15">AREAS:</text>
<text x="826.94" y="1413.4" font-family="Liberation Sans" font-size="18.7" font-weight="normal" fill="#111" text-anchor="start" textLength="67.49" lengthAdjust="spacingAndGlyphs" stroke="#111" stroke-width="0.15">ROOM:</text>
<text x="901.1" y="1413.4" font-family="Liberation Sans" font-size="18.7" font-weight="normal" fill="#111" text-anchor="start" textLength="37.33" lengthAdjust="spacingAndGlyphs" stroke="#111" stroke-width="0.15" letter-spacing="0.73">369</text>
<text x="944.89" y="1413.4" font-family="Liberation Sans" font-size="18.7" font-weight="normal" fill="#111" text-anchor="start" textLength="28.7" lengthAdjust="spacingAndGlyphs" stroke="#111" stroke-width="0.15" letter-spacing="0.11">sq.</text>
<text x="980" y="1413.4" font-family="Liberation Sans" font-size="18.7" font-weight="normal" fill="#111" text-anchor="start" textLength="22.28" lengthAdjust="spacingAndGlyphs" stroke="#111" stroke-width="0.15" letter-spacing="1.23">ft,</text>
<text x="1006.94" y="1413.4" font-family="Liberation Sans" font-size="18.7" font-weight="normal" fill="#111" text-anchor="start" textLength="101.28" lengthAdjust="spacingAndGlyphs" stroke="#111" stroke-width="0.15">STORAGE:</text>
<text x="1114.73" y="1413.4" font-family="Liberation Sans" font-size="18.7" font-weight="normal" fill="#111" text-anchor="start" textLength="37.86" lengthAdjust="spacingAndGlyphs" stroke="#111" stroke-width="0.15" letter-spacing="0.7">318</text>
<text x="1158.52" y="1413.4" font-family="Liberation Sans" font-size="18.7" font-weight="normal" fill="#111" text-anchor="start" textLength="28.7" lengthAdjust="spacingAndGlyphs" stroke="#111" stroke-width="0.15" letter-spacing="0.11">sq.</text>
<text x="1193.26" y="1413.4" font-family="Liberation Sans" font-size="18.7" font-weight="normal" fill="#111" text-anchor="start" textLength="23.55" lengthAdjust="spacingAndGlyphs" stroke="#111" stroke-width="0.15" letter-spacing="1.26">ft,</text>
<text x="1220.15" y="1413.4" font-family="Liberation Sans" font-size="18.7" font-weight="normal" fill="#111" text-anchor="start" textLength="83.6" lengthAdjust="spacingAndGlyphs" stroke="#111" stroke-width="0.15" letter-spacing="0.08">UTILITY:</text>
<text x="1308.99" y="1413.4" font-family="Liberation Sans" font-size="18.7" font-weight="normal" fill="#111" text-anchor="start" textLength="38.23" lengthAdjust="spacingAndGlyphs" stroke="#111" stroke-width="0.15" letter-spacing="0.73">148</text>
<text x="1353.68" y="1413.4" font-family="Liberation Sans" font-size="18.7" font-weight="normal" fill="#111" text-anchor="start" textLength="30.07" lengthAdjust="spacingAndGlyphs" stroke="#111" stroke-width="0.15" letter-spacing="0.45">sq.</text>
<text x="1388.84" y="1413.4" font-family="Liberation Sans" font-size="18.7" font-weight="normal" fill="#111" text-anchor="start" textLength="23.23" lengthAdjust="spacingAndGlyphs" stroke="#111" stroke-width="0.15" letter-spacing="1.38">ft,</text>
<text x="743.57" y="1436" font-family="Liberation Sans" font-size="18.7" font-weight="normal" fill="#111" text-anchor="start" textLength="66.02" lengthAdjust="spacingAndGlyphs" stroke="#111" stroke-width="0.15" letter-spacing="0.01">PATIO:</text>
<text x="815.73" y="1436" font-family="Liberation Sans" font-size="18.7" font-weight="normal" fill="#111" text-anchor="start" textLength="51.44" lengthAdjust="spacingAndGlyphs" stroke="#111" stroke-width="0.15" letter-spacing="0.97">1658</text>
<text x="872.31" y="1436" font-family="Liberation Sans" font-size="18.7" font-weight="normal" fill="#111" text-anchor="start" textLength="30.02" lengthAdjust="spacingAndGlyphs" stroke="#111" stroke-width="0.15" letter-spacing="0.29">sq.</text>
<text x="907.84" y="1436" font-family="Liberation Sans" font-size="18.7" font-weight="normal" fill="#111" text-anchor="start" textLength="23.18" lengthAdjust="spacingAndGlyphs" stroke="#111" stroke-width="0.15" letter-spacing="1.23">ft,</text>
<text x="935.26" y="1436" font-family="Liberation Sans" font-size="18.7" font-weight="normal" fill="#111" text-anchor="start" textLength="88.54" lengthAdjust="spacingAndGlyphs" stroke="#111" stroke-width="0.15">GARAGE:</text>
<text x="1030.26" y="1436" font-family="Liberation Sans" font-size="18.7" font-weight="normal" fill="#111" text-anchor="start" textLength="36.96" lengthAdjust="spacingAndGlyphs" stroke="#111" stroke-width="0.15" letter-spacing="0.7">644</text>
<text x="1072.94" y="1436" font-family="Liberation Sans" font-size="18.7" font-weight="normal" fill="#111" text-anchor="start" textLength="30.39" lengthAdjust="spacingAndGlyphs" stroke="#111" stroke-width="0.15" letter-spacing="0.32">sq.</text>
<text x="1109.37" y="1436" font-family="Liberation Sans" font-size="18.7" font-weight="normal" fill="#111" text-anchor="start" textLength="22.49" lengthAdjust="spacingAndGlyphs" stroke="#111" stroke-width="0.15" letter-spacing="1.32">ft,</text>
<text x="1135.2" y="1436" font-family="Liberation Sans" font-size="18.7" font-weight="normal" fill="#111" text-anchor="start" textLength="62.23" lengthAdjust="spacingAndGlyphs" stroke="#111" stroke-width="0.15">DECK:</text>
<text x="1204.47" y="1436" font-family="Liberation Sans" font-size="18.7" font-weight="normal" fill="#111" text-anchor="start" textLength="36.96" lengthAdjust="spacingAndGlyphs" stroke="#111" stroke-width="0.15" letter-spacing="0.7">231</text>
<text x="1247.52" y="1436" font-family="Liberation Sans" font-size="18.7" font-weight="normal" fill="#111" text-anchor="start" textLength="29.44" lengthAdjust="spacingAndGlyphs" stroke="#111" stroke-width="0.15" letter-spacing="0.17">sq.</text>
<text x="1283" y="1436" font-family="Liberation Sans" font-size="18.7" font-weight="normal" fill="#111" text-anchor="start" textLength="23.97" lengthAdjust="spacingAndGlyphs" stroke="#111" stroke-width="0.15" letter-spacing="1.44">ft,</text>
<text x="675.26" y="1458.5" font-family="Liberation Sans" font-size="18.7" font-weight="normal" fill="#111" text-anchor="start" textLength="52.96" lengthAdjust="spacingAndGlyphs" stroke="#111" stroke-width="0.15">OPEN</text>
<text x="734.26" y="1458.5" font-family="Liberation Sans" font-size="18.7" font-weight="normal" fill="#111" text-anchor="start" textLength="27.59" lengthAdjust="spacingAndGlyphs" stroke="#111" stroke-width="0.15">TO</text>
<text x="766.57" y="1458.5" font-family="Liberation Sans" font-size="18.7" font-weight="normal" fill="#111" text-anchor="start" textLength="76.28" lengthAdjust="spacingAndGlyphs" stroke="#111" stroke-width="0.15">BELOW:</text>
<text x="850.31" y="1458.5" font-family="Liberation Sans" font-size="18.7" font-weight="normal" fill="#111" text-anchor="start" textLength="37.33" lengthAdjust="spacingAndGlyphs" stroke="#111" stroke-width="0.15" letter-spacing="0.73">591</text>
<text x="894.26" y="1458.5" font-family="Liberation Sans" font-size="18.7" font-weight="normal" fill="#111" text-anchor="start" textLength="29.49" lengthAdjust="spacingAndGlyphs" stroke="#111" stroke-width="0.15" letter-spacing="0.32">sq.</text>
<text x="929.79" y="1458.5" font-family="Liberation Sans" font-size="18.7" font-weight="normal" fill="#111" text-anchor="start" textLength="22.65" lengthAdjust="spacingAndGlyphs" stroke="#111" stroke-width="0.15" letter-spacing="1.26">ft,</text>
<text x="955.78" y="1458.5" font-family="Liberation Sans" font-size="18.7" font-weight="normal" fill="#111" text-anchor="start" textLength="45.17" lengthAdjust="spacingAndGlyphs" stroke="#111" stroke-width="0.15">LOW</text>
<text x="1006.94" y="1458.5" font-family="Liberation Sans" font-size="18.7" font-weight="normal" fill="#111" text-anchor="start" textLength="90.44" lengthAdjust="spacingAndGlyphs" stroke="#111" stroke-width="0.15" letter-spacing="0.12">CEILING:</text>
<text x="1104.1" y="1458.5" font-family="Liberation Sans" font-size="18.7" font-weight="normal" fill="#111" text-anchor="start" textLength="26.44" lengthAdjust="spacingAndGlyphs" stroke="#111" stroke-width="0.15" letter-spacing="0.97">67</text>
<text x="1135.68" y="1458.5" font-family="Liberation Sans" font-size="18.7" font-weight="normal" fill="#111" text-anchor="start" textLength="29.12" lengthAdjust="spacingAndGlyphs" stroke="#111" stroke-width="0.15" letter-spacing="0.29">sq.</text>
<text x="1170.84" y="1458.5" font-family="Liberation Sans" font-size="18.7" font-weight="normal" fill="#111" text-anchor="start" textLength="23.55" lengthAdjust="spacingAndGlyphs" stroke="#111" stroke-width="0.15" letter-spacing="1.26">ft,</text>
<text x="1200" y="1458.5" font-family="Liberation Sans" font-size="18.7" font-weight="normal" fill="#111" text-anchor="start" textLength="72.59" lengthAdjust="spacingAndGlyphs" stroke="#111" stroke-width="0.15">WALLS:</text>
<text x="1279.63" y="1458.5" font-family="Liberation Sans" font-size="18.7" font-weight="normal" fill="#111" text-anchor="start" textLength="36.43" lengthAdjust="spacingAndGlyphs" stroke="#111" stroke-width="0.15" letter-spacing="0.73">470</text>
<text x="1322.52" y="1458.5" font-family="Liberation Sans" font-size="18.7" font-weight="normal" fill="#111" text-anchor="start" textLength="30.39" lengthAdjust="spacingAndGlyphs" stroke="#111" stroke-width="0.15" letter-spacing="0.32">sq.</text>
<text x="1358.05" y="1458.5" font-family="Liberation Sans" font-size="18.7" font-weight="normal" fill="#111" text-anchor="start" textLength="16.49" lengthAdjust="spacingAndGlyphs" stroke="#111" stroke-width="0.15" letter-spacing="1.85">ft</text>
<text x="796.68" y="1496.9" font-family="Liberation Sans" font-size="13.4" font-weight="normal" fill="#111" text-anchor="start" textLength="101.85" lengthAdjust="spacingAndGlyphs" stroke="#111" stroke-width="0.15" letter-spacing="0.37">Measurements</text>
<text x="904" y="1496.9" font-family="Liberation Sans" font-size="13.4" font-weight="normal" fill="#111" text-anchor="start" textLength="23.32" lengthAdjust="spacingAndGlyphs" stroke="#111" stroke-width="0.15" letter-spacing="0.45">Are</text>
<text x="931.36" y="1496.9" font-family="Liberation Sans" font-size="13.4" font-weight="normal" fill="#111" text-anchor="start" textLength="59.28" lengthAdjust="spacingAndGlyphs" stroke="#111" stroke-width="0.15" letter-spacing="0.38">Deemed</text>
<text x="994.31" y="1496.9" font-family="Liberation Sans" font-size="13.4" font-weight="normal" fill="#111" text-anchor="start" textLength="43.27" lengthAdjust="spacingAndGlyphs" stroke="#111" stroke-width="0.15" letter-spacing="0.45">Highly</text>
<text x="1042.47" y="1496.9" font-family="Liberation Sans" font-size="13.4" font-weight="normal" fill="#111" text-anchor="start" textLength="55.01" lengthAdjust="spacingAndGlyphs" stroke="#111" stroke-width="0.15">Reliable,</text>
<text x="1105.52" y="1496.9" font-family="Liberation Sans" font-size="13.4" font-weight="normal" fill="#111" text-anchor="start" textLength="26.12" lengthAdjust="spacingAndGlyphs" stroke="#111" stroke-width="0.15" letter-spacing="0.99">But</text>
<text x="1135.68" y="1496.9" font-family="Liberation Sans" font-size="13.4" font-weight="normal" fill="#111" text-anchor="start" textLength="23.85" lengthAdjust="spacingAndGlyphs" stroke="#111" stroke-width="0.15" letter-spacing="0.42">Not</text>
<text x="1164.47" y="1496.9" font-family="Liberation Sans" font-size="13.4" font-weight="normal" fill="#111" text-anchor="start" textLength="87.75" lengthAdjust="spacingAndGlyphs" stroke="#111" stroke-width="0.15" letter-spacing="0.45">Guaranteed.</text>
<rect x="0" y="1454.2" width="249.8" height="81.8" fill="#636363"/>
<text x="17.5" y="1509.2" font-family="Liberation Serif" font-size="57" font-weight="bold" fill="#dcdcdc" text-anchor="start" textLength="148.5" lengthAdjust="spacingAndGlyphs">bright</text>
<text x="178.4" y="1508.6" font-family="Liberation Sans" font-size="26" font-weight="normal" fill="#e0e0e0" text-anchor="start">MLS</text>
<text x="165.7" y="1473.5" font-family="Liberation Sans" font-size="6" font-weight="normal" fill="#e0e0e0" text-anchor="start">TM</text>
<rect x="147.3" y="1474.5" width="20.7" height="38.5" fill="#636363"/>
<path d="M150.2,1489.5 L156.6,1489.5 L156.6,1502.5 Q156.8,1506.3 160.8,1506.3 Q163.3,1506.3 165.6,1505.2 L166,1506.6 Q161.5,1509.6 157.5,1509.6 Q150.2,1509.6 150.2,1502.5 Z" fill="#dcdcdc"/>
<path d="M154.1,1474.5 Q155.9,1481.2 164.6,1483 Q155.9,1484.8 154.1,1488.5 Q152.3,1484.8 145.6,1483 Q152.3,1481.2 154.1,1474.5 Z" fill="#d9512c"/>
<g transform="translate(354.4 322.3) rotate(-45.1)"><defs><clipPath id="fpc"><rect x="0" y="0" width="86.3" height="23.5"/></clipPath></defs><g clip-path="url(#fpc)"><line x1="-66.5" y1="0" x2="19.8" y2="23.5" stroke="#222" stroke-width="0.9"/><line x1="-47" y1="0" x2="39.3" y2="23.5" stroke="#222" stroke-width="0.9"/><line x1="-27.5" y1="0" x2="58.8" y2="23.5" stroke="#222" stroke-width="0.9"/><line x1="-8" y1="0" x2="78.3" y2="23.5" stroke="#222" stroke-width="0.9"/><line x1="11.5" y1="0" x2="97.8" y2="23.5" stroke="#222" stroke-width="0.9"/><line x1="31" y1="0" x2="117.3" y2="23.5" stroke="#222" stroke-width="0.9"/><line x1="50.5" y1="0" x2="136.8" y2="23.5" stroke="#222" stroke-width="0.9"/><line x1="70" y1="0" x2="156.3" y2="23.5" stroke="#222" stroke-width="0.9"/></g><line x1="0" y1="0" x2="0" y2="23.5" stroke="#000" stroke-width="1.4"/><line x1="86.3" y1="0" x2="86.3" y2="23.5" stroke="#000" stroke-width="1.4"/><line x1="0" y1="23.5" x2="86.3" y2="23.5" stroke="#222" stroke-width="0.9"/><line x1="25" y1="6.5" x2="62.7" y2="6.5" stroke="#222" stroke-width="0.9"/><line x1="25" y1="6.5" x2="25" y2="23.5" stroke="#000" stroke-width="1.4"/><line x1="62.7" y1="6.5" x2="62.7" y2="23.5" stroke="#000" stroke-width="1.4"/></g>
<polygon points="567.9,263.9 572.1,263.9 570,261.1" fill="#111"/>
<polygon points="821.9,47.9 826.1,47.9 824,45.1" fill="#111"/>
<polygon points="1128.3,169.9 1132.5,169.9 1130.4,167.1" fill="#111"/>
<polygon points="1134.7,381.9 1138.9,381.9 1136.8,379.1" fill="#111"/>
<polygon points="1259.9,381.9 1264.1,381.9 1262,379.1" fill="#111"/>
<polygon points="891.9,309.9 896.1,309.9 894,307.1" fill="#111"/>
<polygon points="740.6,378.4 744.8,378.4 742.7,375.6" fill="#111"/>
<polygon points="1134.9,473.9 1139.1,473.9 1137,471.1" fill="#111"/>
<polygon points="1043.9,581.4 1048.1,581.4 1046,578.6" fill="#111"/>
<polygon points="1316.7,473.9 1320.9,473.9 1318.8,471.1" fill="#111"/>
<polygon points="1569.7,652.4 1573.9,652.4 1571.8,649.6" fill="#111"/>
<polygon points="1153.6,689.9 1157.8,689.9 1155.7,687.1" fill="#111"/>
<polygon points="594.3,624.9 598.5,624.9 596.4,622.1" fill="#111"/>
<polygon points="436.3,692.2 440.5,692.2 438.4,689.4" fill="#111"/>
<polygon points="732.9,778.9 737.1,778.9 735,776.1" fill="#111"/>
<polygon points="925.6,797.4 929.8,797.4 927.7,794.6" fill="#111"/>
<polygon points="1128.3,367.1 1132.5,367.1 1130.4,369.9" fill="#111"/>
<polygon points="821.7,366.1 825.9,366.1 823.8,368.9" fill="#111"/>
<polygon points="1134.9,461.6 1139.1,461.6 1137,464.4" fill="#111"/>
<polygon points="1260.9,461.6 1265.1,461.6 1263,464.4" fill="#111"/>
<polygon points="892.2,677.9 896.4,677.9 894.3,680.7" fill="#111"/>
<polygon points="1043.9,677.9 1048.1,677.9 1046,680.7" fill="#111"/>
<polygon points="1134.9,677.9 1139.1,677.9 1137,680.7" fill="#111"/>
<polygon points="1316.7,784.6 1320.9,784.6 1318.8,787.4" fill="#111"/>
<polygon points="1190.5,1067.1 1194.7,1067.1 1192.6,1069.9" fill="#111"/>
<polygon points="1569.5,926.1 1573.7,926.1 1571.6,928.9" fill="#111"/>
<polygon points="705.3,766.9 709.5,766.9 707.4,769.7" fill="#111"/>
<polygon points="732.9,1032.6 737.1,1032.6 735,1035.4" fill="#111"/>
<polygon points="435.9,1266.1 440.1,1266.1 438,1268.9" fill="#111"/>
<polygon points="593.9,748.6 598.1,748.6 596,751.4" fill="#111"/>
<polygon points="567.9,612.6 572.1,612.6 570,615.4" fill="#111"/>
<polygon points="357.2,432.7 357.2,436.9 354.4,434.8" fill="#111"/>
<polygon points="702.9,213.2 702.9,217.4 700.1,215.3" fill="#111"/>
<polygon points="994.4,264.9 994.4,269.1 991.6,267" fill="#111"/>
<polygon points="1087.2,419.2 1087.2,423.4 1084.4,421.3" fill="#111"/>
<polygon points="1197.2,419.2 1197.2,423.4 1194.4,421.3" fill="#111"/>
<polygon points="849.2,438.4 849.2,442.6 846.4,440.5" fill="#111"/>
<polygon points="1087.2,573.4 1087.2,577.6 1084.4,575.5" fill="#111"/>
<polygon points="949.1,640.4 949.1,644.6 946.3,642.5" fill="#111"/>
<polygon points="1197.1,691.5 1197.1,695.7 1194.3,693.6" fill="#111"/>
<polygon points="1063.4,713.4 1063.4,717.6 1060.6,715.5" fill="#111"/>
<polygon points="1451.9,786.9 1451.9,791.1 1449.1,789" fill="#111"/>
<polygon points="1124.9,907.5 1124.9,911.7 1122.1,909.6" fill="#111"/>
<polygon points="666.4,961.4 666.4,965.6 663.6,963.5" fill="#111"/>
<polygon points="357.2,1011.4 357.2,1015.6 354.4,1013.5" fill="#111"/>
<polygon points="572.4,672.4 572.4,676.6 569.6,674.5" fill="#111"/>
<polygon points="691.6,432.7 691.6,436.9 694.4,434.8" fill="#111"/>
<polygon points="979.9,213.2 979.9,217.4 982.7,215.3" fill="#111"/>
<polygon points="1397.6,264.9 1397.6,269.1 1400.4,267" fill="#111"/>
<polygon points="1186.6,419.2 1186.6,423.4 1189.4,421.3" fill="#111"/>
<polygon points="1327.6,419.2 1327.6,423.4 1330.4,421.3" fill="#111"/>
<polygon points="1076.3,438.2 1076.3,442.4 1079.1,440.3" fill="#111"/>
<polygon points="1186.1,573.9 1186.1,578.1 1188.9,576" fill="#111"/>
<polygon points="1075.9,640.2 1075.9,644.4 1078.7,642.3" fill="#111"/>
<polygon points="1440.3,691.7 1440.3,695.9 1443.1,693.8" fill="#111"/>
<polygon points="1690.8,786.9 1690.8,791.1 1693.6,789" fill="#111"/>
<polygon points="1186.6,712.6 1186.6,716.8 1189.4,714.7" fill="#111"/>
<polygon points="1440.4,907.5 1440.4,911.7 1443.2,909.6" fill="#111"/>
<polygon points="1118.1,855.4 1118.1,859.6 1120.9,857.5" fill="#111"/>
<polygon points="919.6,961.2 919.6,965.4 922.4,963.3" fill="#111"/>
<polygon points="652.2,1011.4 652.2,1015.6 655,1013.5" fill="#111"/>
</svg>
</body></html>
